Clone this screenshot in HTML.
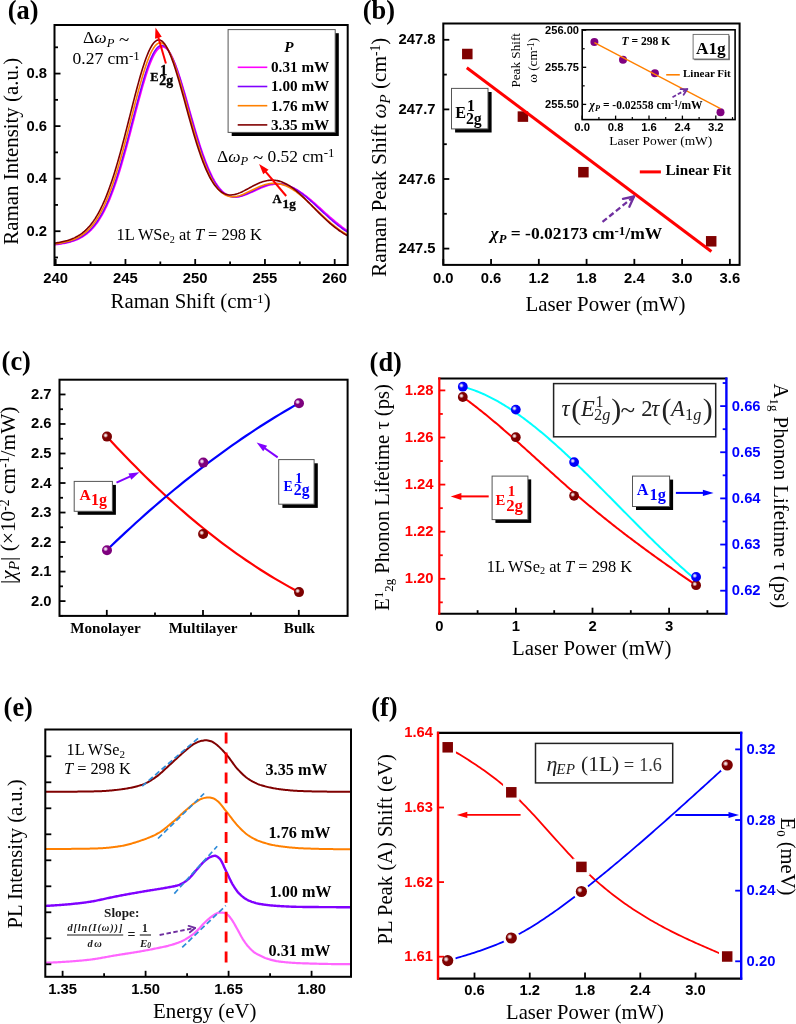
<!DOCTYPE html>
<html lang="en"><head><meta charset="utf-8"><title>Raman and PL power dependence of WSe2</title>
<style>html,body{margin:0;padding:0;background:#fff}svg{display:block;will-change:transform;opacity:0.9999}text{white-space:pre}</style></head><body>
<svg width="796" height="1024" viewBox="0 0 796 1024">
<rect x="0" y="0" width="796" height="1024" fill="#fff"/>
<defs>
<radialGradient id="gRed" cx="0.36" cy="0.38" r="0.70" fx="0.36" fy="0.38"><stop offset="0" stop-color="#f4f4f4"/><stop offset="0.14" stop-color="#e6c4c4"/><stop offset="0.36" stop-color="#800000"/><stop offset="1" stop-color="#7a0000"/></radialGradient>
<radialGradient id="gPur" cx="0.36" cy="0.38" r="0.70" fx="0.36" fy="0.38"><stop offset="0" stop-color="#f4f4f4"/><stop offset="0.14" stop-color="#e6c4e6"/><stop offset="0.36" stop-color="#800080"/><stop offset="1" stop-color="#7a007a"/></radialGradient>
<radialGradient id="gBlu" cx="0.36" cy="0.38" r="0.70" fx="0.36" fy="0.38"><stop offset="0" stop-color="#f4f4f4"/><stop offset="0.14" stop-color="#c4c4f2"/><stop offset="0.36" stop-color="#0000ff"/><stop offset="1" stop-color="#0000ee"/></radialGradient>
</defs>
<clipPath id="clipA"><rect x="54.5" y="25" width="293.2" height="240"/></clipPath>
<g clip-path="url(#clipA)">
<polyline points="53.61,244.85 54.67,244.74 55.73,244.62 56.79,244.49 57.85,244.36 58.91,244.22 59.97,244.07 61.03,243.91 62.09,243.73 63.15,243.55 64.21,243.36 65.27,243.15 66.33,242.93 67.39,242.69 68.45,242.44 69.51,242.17 70.57,241.88 71.63,241.57 72.69,241.24 73.75,240.89 74.81,240.51 75.87,240.1 76.93,239.66 77.99,239.2 79.05,238.7 80.11,238.16 81.17,237.59 82.23,236.98 83.29,236.33 84.35,235.64 85.41,234.9 86.47,234.11 87.53,233.26 88.59,232.37 89.65,231.42 90.71,230.4 91.77,229.33 92.83,228.19 93.89,226.98 94.95,225.71 96.01,224.35 97.07,222.93 98.13,221.42 99.19,219.84 100.25,218.17 101.31,216.41 102.37,214.57 103.43,212.64 104.49,210.62 105.55,208.5 106.61,206.29 107.67,203.98 108.73,201.57 109.79,199.07 110.85,196.46 111.91,193.76 112.97,190.96 114.03,188.07 115.09,185.07 116.15,181.99 117.21,178.8 118.27,175.53 119.33,172.16 120.39,168.71 121.45,165.18 122.51,161.57 123.57,157.88 124.63,154.13 125.69,150.31 126.75,146.43 127.81,142.5 128.87,138.52 129.93,134.51 130.99,130.47 132.05,126.4 133.11,122.32 134.17,118.23 135.23,114.15 136.29,110.09 137.35,106.05 138.41,102.04 139.47,98.09 140.53,94.19 141.59,90.36 142.65,86.62 143.71,82.97 144.77,79.43 145.83,76 146.89,72.71 147.95,69.57 149.01,66.58 150.07,63.76 151.13,61.12 152.19,58.68 153.25,56.44 154.31,54.42 155.37,52.61 156.43,51.05 157.49,49.72 158.55,48.64 159.61,47.81 160.67,47.23 161.73,46.91 162.79,46.86 163.85,47.06 164.91,47.51 165.97,48.22 167.03,49.18 168.09,50.39 169.15,51.82 170.21,53.49 171.27,55.37 172.33,57.46 173.39,59.75 174.45,62.22 175.51,64.87 176.57,67.67 177.63,70.62 178.69,73.71 179.75,76.92 180.81,80.24 181.87,83.65 182.93,87.15 183.99,90.71 185.05,94.33 186.11,98 187.17,101.7 188.23,105.42 189.29,109.15 190.35,112.89 191.41,116.61 192.47,120.31 193.53,123.98 194.59,127.62 195.65,131.2 196.71,134.74 197.77,138.21 198.83,141.61 199.89,144.93 200.95,148.17 202.01,151.33 203.07,154.39 204.13,157.36 205.19,160.23 206.25,162.99 207.31,165.65 208.37,168.19 209.43,170.63 210.49,172.95 211.55,175.16 212.61,177.26 213.67,179.24 214.73,181.1 215.79,182.85 216.85,184.49 217.91,186.01 218.97,187.43 220.03,188.73 221.09,189.93 222.15,191.02 223.21,192.01 224.27,192.89 225.33,193.68 226.39,194.38 227.45,194.99 228.51,195.51 229.57,195.94 230.63,196.29 231.69,196.57 232.75,196.77 233.81,196.9 234.87,196.97 235.93,196.98 236.99,196.93 238.05,196.82 239.11,196.66 240.17,196.46 241.23,196.21 242.29,195.92 243.35,195.6 244.41,195.24 245.47,194.86 246.53,194.45 247.59,194.02 248.65,193.57 249.71,193.11 250.77,192.63 251.83,192.15 252.89,191.66 253.95,191.16 255.01,190.67 256.07,190.18 257.13,189.69 258.19,189.21 259.25,188.75 260.31,188.29 261.37,187.85 262.43,187.42 263.49,187.01 264.55,186.63 265.61,186.26 266.67,185.92 267.73,185.6 268.79,185.31 269.85,185.05 270.91,184.82 271.97,184.62 273.03,184.44 274.09,184.31 275.15,184.2 276.21,184.13 277.27,184.09 278.33,184.09 279.39,184.12 280.45,184.19 281.51,184.29 282.57,184.43 283.63,184.61 284.69,184.82 285.75,185.07 286.81,185.36 287.87,185.68 288.93,186.03 289.99,186.42 291.05,186.84 292.11,187.3 293.17,187.79 294.23,188.31 295.29,188.87 296.35,189.45 297.41,190.06 298.47,190.7 299.53,191.37 300.59,192.07 301.65,192.79 302.71,193.53 303.77,194.3 304.83,195.09 305.89,195.9 306.95,196.73 308.01,197.58 309.07,198.44 310.13,199.32 311.19,200.22 312.25,201.12 313.31,202.04 314.37,202.97 315.43,203.9 316.49,204.85 317.55,205.8 318.61,206.75 319.67,207.71 320.73,208.67 321.79,209.64 322.85,210.6 323.91,211.56 324.97,212.52 326.03,213.48 327.09,214.43 328.15,215.37 329.21,216.31 330.27,217.24 331.33,218.17 332.39,219.08 333.45,219.98 334.51,220.88 335.57,221.76 336.63,222.63 337.69,223.48 338.75,224.33 339.81,225.15 340.87,225.97 341.93,226.77 342.99,227.55 344.05,228.31 345.11,229.07 346.17,229.8 347.23,230.52 348.29,231.22 349.35,231.9" fill="none" stroke="#FF00FF" stroke-width="1.6" stroke-linejoin="round" stroke-linecap="butt"/>
<polyline points="53.61,244.48 54.67,244.37 55.73,244.24 56.79,244.11 57.85,243.97 58.91,243.82 59.97,243.66 61.03,243.5 62.09,243.32 63.15,243.13 64.21,242.92 65.27,242.7 66.33,242.47 67.39,242.22 68.45,241.96 69.51,241.67 70.57,241.37 71.63,241.04 72.69,240.69 73.75,240.32 74.81,239.92 75.87,239.49 76.93,239.03 77.99,238.54 79.05,238.02 80.11,237.45 81.17,236.85 82.23,236.21 83.29,235.53 84.35,234.8 85.41,234.02 86.47,233.19 87.53,232.31 88.59,231.37 89.65,230.37 90.71,229.31 91.77,228.19 92.83,227 93.89,225.74 94.95,224.4 96.01,222.99 97.07,221.51 98.13,219.94 99.19,218.29 100.25,216.55 101.31,214.73 102.37,212.82 103.43,210.81 104.49,208.71 105.55,206.52 106.61,204.23 107.67,201.84 108.73,199.35 109.79,196.77 110.85,194.09 111.91,191.3 112.97,188.42 114.03,185.44 115.09,182.37 116.15,179.19 117.21,175.93 118.27,172.58 119.33,169.13 120.39,165.61 121.45,162 122.51,158.32 123.57,154.56 124.63,150.74 125.69,146.86 126.75,142.92 127.81,138.93 128.87,134.91 129.93,130.85 130.99,126.76 132.05,122.66 133.11,118.55 134.17,114.45 135.23,110.35 136.29,106.28 137.35,102.24 138.41,98.24 139.47,94.3 140.53,90.43 141.59,86.63 142.65,82.93 143.71,79.33 144.77,75.84 145.83,72.49 146.89,69.28 147.95,66.22 149.01,63.33 150.07,60.62 151.13,58.1 152.19,55.78 153.25,53.67 154.31,51.79 155.37,50.13 156.43,48.72 157.49,47.55 158.55,46.64 159.61,45.98 160.67,45.58 161.73,45.44 162.79,45.57 163.85,45.95 164.91,46.59 165.97,47.48 167.03,48.62 168.09,50 169.15,51.61 170.21,53.44 171.27,55.48 172.33,57.73 173.39,60.17 174.45,62.79 175.51,65.57 176.57,68.51 177.63,71.59 178.69,74.79 179.75,78.11 180.81,81.52 181.87,85.03 182.93,88.61 183.99,92.25 185.05,95.94 186.11,99.67 187.17,103.43 188.23,107.2 189.29,110.97 190.35,114.74 191.41,118.49 192.47,122.21 193.53,125.9 194.59,129.54 195.65,133.13 196.71,136.65 197.77,140.12 198.83,143.5 199.89,146.81 200.95,150.03 202.01,153.15 203.07,156.18 204.13,159.12 205.19,161.94 206.25,164.66 207.31,167.27 208.37,169.77 209.43,172.15 210.49,174.42 211.55,176.58 212.61,178.61 213.67,180.53 214.73,182.34 215.79,184.02 216.85,185.59 217.91,187.05 218.97,188.4 220.03,189.64 221.09,190.77 222.15,191.79 223.21,192.71 224.27,193.54 225.33,194.26 226.39,194.89 227.45,195.43 228.51,195.88 229.57,196.25 230.63,196.54 231.69,196.76 232.75,196.9 233.81,196.97 234.87,196.98 235.93,196.93 236.99,196.82 238.05,196.66 239.11,196.45 240.17,196.2 241.23,195.9 242.29,195.56 243.35,195.2 244.41,194.8 245.47,194.37 246.53,193.92 247.59,193.46 248.65,192.97 249.71,192.48 250.77,191.97 251.83,191.46 252.89,190.94 253.95,190.43 255.01,189.91 256.07,189.4 257.13,188.9 258.19,188.41 259.25,187.93 260.31,187.46 261.37,187.02 262.43,186.59 263.49,186.18 264.55,185.8 265.61,185.44 266.67,185.1 267.73,184.8 268.79,184.52 269.85,184.28 270.91,184.07 271.97,183.89 273.03,183.74 274.09,183.63 275.15,183.55 276.21,183.51 277.27,183.51 278.33,183.54 279.39,183.62 280.45,183.73 281.51,183.87 282.57,184.06 283.63,184.28 284.69,184.54 285.75,184.84 286.81,185.18 287.87,185.55 288.93,185.96 289.99,186.41 291.05,186.89 292.11,187.4 293.17,187.95 294.23,188.53 295.29,189.14 296.35,189.78 297.41,190.45 298.47,191.15 299.53,191.88 300.59,192.63 301.65,193.41 302.71,194.21 303.77,195.04 304.83,195.88 305.89,196.74 306.95,197.63 308.01,198.53 309.07,199.44 310.13,200.37 311.19,201.31 312.25,202.26 313.31,203.22 314.37,204.19 315.43,205.16 316.49,206.14 317.55,207.13 318.61,208.12 319.67,209.11 320.73,210.1 321.79,211.08 322.85,212.07 323.91,213.05 324.97,214.03 326.03,215 327.09,215.96 328.15,216.92 329.21,217.87 330.27,218.8 331.33,219.73 332.39,220.65 333.45,221.55 334.51,222.44 335.57,223.31 336.63,224.17 337.69,225.02 338.75,225.85 339.81,226.67 340.87,227.46 341.93,228.25 342.99,229.01 344.05,229.76 345.11,230.48 346.17,231.19 347.23,231.89 348.29,232.56 349.35,233.22" fill="none" stroke="#8000FF" stroke-width="1.6" stroke-linejoin="round" stroke-linecap="butt"/>
<polyline points="53.61,244 54.67,243.87 55.73,243.74 56.79,243.59 57.85,243.44 58.91,243.28 59.97,243.1 61.03,242.92 62.09,242.72 63.15,242.51 64.21,242.29 65.27,242.05 66.33,241.79 67.39,241.51 68.45,241.22 69.51,240.9 70.57,240.57 71.63,240.21 72.69,239.82 73.75,239.4 74.81,238.96 75.87,238.49 76.93,237.98 77.99,237.43 79.05,236.85 80.11,236.23 81.17,235.57 82.23,234.86 83.29,234.11 84.35,233.3 85.41,232.45 86.47,231.54 87.53,230.57 88.59,229.54 89.65,228.44 90.71,227.28 91.77,226.05 92.83,224.75 93.89,223.38 94.95,221.93 96.01,220.4 97.07,218.78 98.13,217.08 99.19,215.3 100.25,213.42 101.31,211.45 102.37,209.39 103.43,207.24 104.49,204.98 105.55,202.63 106.61,200.18 107.67,197.64 108.73,194.99 109.79,192.24 110.85,189.39 111.91,186.44 112.97,183.39 114.03,180.24 115.09,177 116.15,173.67 117.21,170.24 118.27,166.73 119.33,163.13 120.39,159.45 121.45,155.7 122.51,151.87 123.57,147.98 124.63,144.03 125.69,140.03 126.75,135.98 127.81,131.9 128.87,127.78 129.93,123.63 130.99,119.48 132.05,115.32 133.11,111.16 134.17,107.02 135.23,102.91 136.29,98.83 137.35,94.81 138.41,90.84 139.47,86.94 140.53,83.13 141.59,79.41 142.65,75.81 143.71,72.33 144.77,68.98 145.83,65.78 146.89,62.74 147.95,59.87 149.01,57.19 150.07,54.71 151.13,52.43 152.19,50.38 153.25,48.55 154.31,46.96 155.37,45.62 156.43,44.53 157.49,43.69 158.55,43.12 159.61,42.81 160.67,42.76 161.73,42.98 162.79,43.46 163.85,44.2 164.91,45.2 165.97,46.44 167.03,47.93 168.09,49.65 169.15,51.59 170.21,53.74 171.27,56.09 172.33,58.64 173.39,61.36 174.45,64.25 175.51,67.28 176.57,70.46 177.63,73.76 178.69,77.17 179.75,80.68 180.81,84.28 181.87,87.94 182.93,91.67 183.99,95.44 185.05,99.24 186.11,103.07 187.17,106.91 188.23,110.75 189.29,114.58 190.35,118.38 191.41,122.16 192.47,125.9 193.53,129.59 194.59,133.22 195.65,136.79 196.71,140.29 197.77,143.71 198.83,147.04 199.89,150.29 200.95,153.44 202.01,156.49 203.07,159.44 204.13,162.28 205.19,165.01 206.25,167.63 207.31,170.13 208.37,172.51 209.43,174.78 210.49,176.93 211.55,178.96 212.61,180.87 213.67,182.66 214.73,184.33 215.79,185.88 216.85,187.32 217.91,188.65 218.97,189.86 220.03,190.97 221.09,191.96 222.15,192.86 223.21,193.65 224.27,194.34 225.33,194.94 226.39,195.45 227.45,195.86 228.51,196.2 229.57,196.45 230.63,196.63 231.69,196.74 232.75,196.77 233.81,196.75 234.87,196.66 235.93,196.51 236.99,196.32 238.05,196.07 239.11,195.78 240.17,195.45 241.23,195.08 242.29,194.68 243.35,194.26 244.41,193.8 245.47,193.33 246.53,192.84 247.59,192.33 248.65,191.81 249.71,191.29 250.77,190.76 251.83,190.23 252.89,189.71 253.95,189.19 255.01,188.67 256.07,188.17 257.13,187.68 258.19,187.21 259.25,186.75 260.31,186.32 261.37,185.91 262.43,185.52 263.49,185.16 264.55,184.83 265.61,184.53 266.67,184.26 267.73,184.02 268.79,183.82 269.85,183.65 270.91,183.52 271.97,183.42 273.03,183.37 274.09,183.35 275.15,183.37 276.21,183.44 277.27,183.54 278.33,183.68 279.39,183.87 280.45,184.09 281.51,184.35 282.57,184.66 283.63,185 284.69,185.38 285.75,185.81 286.81,186.26 287.87,186.76 288.93,187.29 289.99,187.86 291.05,188.47 292.11,189.1 293.17,189.77 294.23,190.47 295.29,191.2 296.35,191.96 297.41,192.75 298.47,193.56 299.53,194.4 300.59,195.26 301.65,196.14 302.71,197.04 303.77,197.97 304.83,198.9 305.89,199.85 306.95,200.82 308.01,201.8 309.07,202.79 310.13,203.79 311.19,204.79 312.25,205.8 313.31,206.82 314.37,207.84 315.43,208.86 316.49,209.88 317.55,210.9 318.61,211.92 319.67,212.93 320.73,213.94 321.79,214.94 322.85,215.93 323.91,216.92 324.97,217.9 326.03,218.86 327.09,219.81 328.15,220.75 329.21,221.68 330.27,222.59 331.33,223.49 332.39,224.37 333.45,225.23 334.51,226.08 335.57,226.91 336.63,227.72 337.69,228.52 338.75,229.29 339.81,230.05 340.87,230.79 341.93,231.51 342.99,232.2 344.05,232.88 345.11,233.54 346.17,234.18 347.23,234.8 348.29,235.4 349.35,235.98" fill="none" stroke="#FF8000" stroke-width="1.6" stroke-linejoin="round" stroke-linecap="butt"/>
<polyline points="53.61,243.23 54.67,243.09 55.73,242.94 56.79,242.78 57.85,242.61 58.91,242.43 59.97,242.24 61.03,242.03 62.09,241.81 63.15,241.58 64.21,241.33 65.27,241.06 66.33,240.77 67.39,240.47 68.45,240.14 69.51,239.79 70.57,239.41 71.63,239.01 72.69,238.57 73.75,238.11 74.81,237.62 75.87,237.09 76.93,236.52 77.99,235.92 79.05,235.27 80.11,234.58 81.17,233.84 82.23,233.06 83.29,232.22 84.35,231.33 85.41,230.38 86.47,229.37 87.53,228.3 88.59,227.17 89.65,225.96 90.71,224.69 91.77,223.34 92.83,221.91 93.89,220.41 94.95,218.82 96.01,217.15 97.07,215.4 98.13,213.55 99.19,211.61 100.25,209.58 101.31,207.45 102.37,205.23 103.43,202.9 104.49,200.48 105.55,197.96 106.61,195.33 107.67,192.61 108.73,189.78 109.79,186.85 110.85,183.83 111.91,180.7 112.97,177.47 114.03,174.15 115.09,170.74 116.15,167.23 117.21,163.64 118.27,159.97 119.33,156.21 120.39,152.38 121.45,148.49 122.51,144.52 123.57,140.5 124.63,136.43 125.69,132.32 126.75,128.17 127.81,123.99 128.87,119.8 129.93,115.59 130.99,111.39 132.05,107.19 133.11,103.02 134.17,98.87 135.23,94.77 136.29,90.72 137.35,86.74 138.41,82.84 139.47,79.03 140.53,75.32 141.59,71.73 142.65,68.27 143.71,64.95 144.77,61.78 145.83,58.79 146.89,55.97 147.95,53.35 149.01,50.94 150.07,48.74 151.13,46.76 152.19,45.03 153.25,43.53 154.31,42.29 155.37,41.3 156.43,40.58 157.49,40.12 158.55,39.93 159.61,40.01 160.67,40.36 161.73,40.97 162.79,41.84 163.85,42.96 164.91,44.33 165.97,45.95 167.03,47.79 168.09,49.86 169.15,52.13 170.21,54.61 171.27,57.27 172.33,60.1 173.39,63.1 174.45,66.24 175.51,69.51 176.57,72.91 177.63,76.41 178.69,80 179.75,83.68 180.81,87.42 181.87,91.21 182.93,95.04 183.99,98.91 185.05,102.79 186.11,106.67 187.17,110.56 188.23,114.42 189.29,118.26 190.35,122.06 191.41,125.82 192.47,129.53 193.53,133.17 194.59,136.75 195.65,140.25 196.71,143.66 197.77,146.99 198.83,150.22 199.89,153.36 200.95,156.39 202.01,159.31 203.07,162.12 204.13,164.82 205.19,167.4 206.25,169.86 207.31,172.2 208.37,174.43 209.43,176.52 210.49,178.5 211.55,180.35 212.61,182.09 213.67,183.7 214.73,185.19 215.79,186.57 216.85,187.83 217.91,188.98 218.97,190.01 220.03,190.94 221.09,191.76 222.15,192.47 223.21,193.09 224.27,193.62 225.33,194.05 226.39,194.39 227.45,194.65 228.51,194.82 229.57,194.93 230.63,194.95 231.69,194.91 232.75,194.81 233.81,194.64 234.87,194.42 235.93,194.15 236.99,193.83 238.05,193.47 239.11,193.07 240.17,192.63 241.23,192.16 242.29,191.67 243.35,191.15 244.41,190.62 245.47,190.06 246.53,189.5 247.59,188.93 248.65,188.35 249.71,187.77 250.77,187.2 251.83,186.63 252.89,186.06 253.95,185.51 255.01,184.98 256.07,184.45 257.13,183.95 258.19,183.47 259.25,183.02 260.31,182.59 261.37,182.19 262.43,181.82 263.49,181.48 264.55,181.18 265.61,180.91 266.67,180.68 267.73,180.49 268.79,180.34 269.85,180.23 270.91,180.15 271.97,180.13 273.03,180.14 274.09,180.2 275.15,180.3 276.21,180.44 277.27,180.63 278.33,180.86 279.39,181.13 280.45,181.45 281.51,181.81 282.57,182.22 283.63,182.66 284.69,183.15 285.75,183.68 286.81,184.24 287.87,184.85 288.93,185.49 289.99,186.17 291.05,186.88 292.11,187.63 293.17,188.41 294.23,189.22 295.29,190.06 296.35,190.92 297.41,191.82 298.47,192.74 299.53,193.68 300.59,194.64 301.65,195.62 302.71,196.62 303.77,197.63 304.83,198.66 305.89,199.71 306.95,200.76 308.01,201.82 309.07,202.89 310.13,203.97 311.19,205.05 312.25,206.13 313.31,207.21 314.37,208.3 315.43,209.38 316.49,210.45 317.55,211.53 318.61,212.59 319.67,213.65 320.73,214.7 321.79,215.74 322.85,216.76 323.91,217.78 324.97,218.78 326.03,219.77 327.09,220.74 328.15,221.69 329.21,222.63 330.27,223.55 331.33,224.46 332.39,225.34 333.45,226.21 334.51,227.05 335.57,227.88 336.63,228.68 337.69,229.46 338.75,230.23 339.81,230.97 340.87,231.69 341.93,232.39 342.99,233.07 344.05,233.72 345.11,234.36 346.17,234.97 347.23,235.57 348.29,236.14 349.35,236.69" fill="none" stroke="#800000" stroke-width="1.6" stroke-linejoin="round" stroke-linecap="butt"/>
</g>
<rect x="54.5" y="25" width="293.2" height="240" fill="none" stroke="#000" stroke-width="2"/>
<line x1="55.7" y1="265" x2="55.7" y2="259" stroke="#000" stroke-width="1.8" stroke-linecap="butt"/>
<text x="55.7" y="283.2" font-family='"Liberation Sans", "DejaVu Sans", sans-serif' font-size="14.8" font-weight="bold" font-style="normal" fill="#000" text-anchor="middle">240</text>
<line x1="125.45" y1="265" x2="125.45" y2="259" stroke="#000" stroke-width="1.8" stroke-linecap="butt"/>
<text x="125.45" y="283.2" font-family='"Liberation Sans", "DejaVu Sans", sans-serif' font-size="14.8" font-weight="bold" font-style="normal" fill="#000" text-anchor="middle">245</text>
<line x1="195.2" y1="265" x2="195.2" y2="259" stroke="#000" stroke-width="1.8" stroke-linecap="butt"/>
<text x="195.2" y="283.2" font-family='"Liberation Sans", "DejaVu Sans", sans-serif' font-size="14.8" font-weight="bold" font-style="normal" fill="#000" text-anchor="middle">250</text>
<line x1="264.95" y1="265" x2="264.95" y2="259" stroke="#000" stroke-width="1.8" stroke-linecap="butt"/>
<text x="264.95" y="283.2" font-family='"Liberation Sans", "DejaVu Sans", sans-serif' font-size="14.8" font-weight="bold" font-style="normal" fill="#000" text-anchor="middle">255</text>
<line x1="334.7" y1="265" x2="334.7" y2="259" stroke="#000" stroke-width="1.8" stroke-linecap="butt"/>
<text x="334.7" y="283.2" font-family='"Liberation Sans", "DejaVu Sans", sans-serif' font-size="14.8" font-weight="bold" font-style="normal" fill="#000" text-anchor="middle">260</text>
<line x1="90.58" y1="265" x2="90.58" y2="261.5" stroke="#000" stroke-width="1.8" stroke-linecap="butt"/>
<line x1="160.32" y1="265" x2="160.32" y2="261.5" stroke="#000" stroke-width="1.8" stroke-linecap="butt"/>
<line x1="230.07" y1="265" x2="230.07" y2="261.5" stroke="#000" stroke-width="1.8" stroke-linecap="butt"/>
<line x1="299.82" y1="265" x2="299.82" y2="261.5" stroke="#000" stroke-width="1.8" stroke-linecap="butt"/>
<line x1="54.5" y1="231.2" x2="60.5" y2="231.2" stroke="#000" stroke-width="1.8" stroke-linecap="butt"/>
<text x="47" y="235.7" font-family='"Liberation Sans", "DejaVu Sans", sans-serif' font-size="14.8" font-weight="bold" font-style="normal" fill="#000" text-anchor="end">0.2</text>
<line x1="54.5" y1="178.66" x2="60.5" y2="178.66" stroke="#000" stroke-width="1.8" stroke-linecap="butt"/>
<text x="47" y="183.16" font-family='"Liberation Sans", "DejaVu Sans", sans-serif' font-size="14.8" font-weight="bold" font-style="normal" fill="#000" text-anchor="end">0.4</text>
<line x1="54.5" y1="126.12" x2="60.5" y2="126.12" stroke="#000" stroke-width="1.8" stroke-linecap="butt"/>
<text x="47" y="130.62" font-family='"Liberation Sans", "DejaVu Sans", sans-serif' font-size="14.8" font-weight="bold" font-style="normal" fill="#000" text-anchor="end">0.6</text>
<line x1="54.5" y1="73.58" x2="60.5" y2="73.58" stroke="#000" stroke-width="1.8" stroke-linecap="butt"/>
<text x="47" y="78.08" font-family='"Liberation Sans", "DejaVu Sans", sans-serif' font-size="14.8" font-weight="bold" font-style="normal" fill="#000" text-anchor="end">0.8</text>
<line x1="54.5" y1="257.47" x2="58" y2="257.47" stroke="#000" stroke-width="1.8" stroke-linecap="butt"/>
<line x1="54.5" y1="204.93" x2="58" y2="204.93" stroke="#000" stroke-width="1.8" stroke-linecap="butt"/>
<line x1="54.5" y1="152.39" x2="58" y2="152.39" stroke="#000" stroke-width="1.8" stroke-linecap="butt"/>
<line x1="54.5" y1="99.85" x2="58" y2="99.85" stroke="#000" stroke-width="1.8" stroke-linecap="butt"/>
<line x1="54.5" y1="47.31" x2="58" y2="47.31" stroke="#000" stroke-width="1.8" stroke-linecap="butt"/>
<text x="7.8" y="18.6" font-family='"Liberation Serif", "DejaVu Serif", serif' font-size="26.4" font-weight="bold" font-style="normal" fill="#000" text-anchor="start">(a)</text>
<text x="190.6" y="308.2" font-family='"Liberation Serif", "DejaVu Serif", serif' font-size="20.8" font-weight="normal" font-style="normal" fill="#000" text-anchor="middle">Raman Shift (cm<tspan dy="-0.42em" font-size="64%">-1</tspan><tspan dy="0.27em" font-size="100%">&#8203;</tspan>)</text>
<text x="18.3" y="151.3" font-family='"Liberation Serif", "DejaVu Serif", serif' font-size="20.9" font-weight="normal" font-style="normal" fill="#000" text-anchor="middle" transform="rotate(-90 18.3 151.3)">Raman Intensity (a.u.)</text>
<text x="83" y="43.4" font-family='"Liberation Serif", "DejaVu Serif", serif' font-size="17.5" font-weight="normal" font-style="normal" fill="#000" text-anchor="start">&#916;<tspan font-style="italic">&#969;</tspan><tspan font-style="italic" font-size="72%" dy="0.26em">P</tspan><tspan dy="-0.06em" font-size="108%"> ~</tspan><tspan dy="-0.122em">&#8203;</tspan></text>
<text x="72.6" y="64.3" font-family='"Liberation Serif", "DejaVu Serif", serif' font-size="17.5" font-weight="normal" font-style="normal" fill="#000" text-anchor="start">0.27 cm<tspan dy="-0.36em" font-size="74%">-1</tspan><tspan dy="0.27em" font-size="100%">&#8203;</tspan></text>
<text x="217" y="161.6" font-family='"Liberation Serif", "DejaVu Serif", serif' font-size="17.45" font-weight="normal" font-style="normal" fill="#000" text-anchor="start">&#916;<tspan font-style="italic">&#969;</tspan><tspan font-style="italic" font-size="72%" dy="0.26em">P</tspan><tspan dy="-0.06em" font-size="108%"> ~</tspan><tspan dy="-0.122em">&#8203;</tspan> 0.52 cm<tspan dy="-0.36em" font-size="74%">-1</tspan><tspan dy="0.27em" font-size="100%">&#8203;</tspan></text>
<text x="116.5" y="240.3" font-family='"Liberation Serif", "DejaVu Serif", serif' font-size="16.4" font-weight="normal" font-style="normal" fill="#000" text-anchor="start">1L WSe<tspan font-size="62%" dy="0.25em">2</tspan><tspan dy="-0.155em"> at </tspan><tspan font-style="italic">T</tspan> = 298 K</text>
<line x1="165.9" y1="63.5" x2="158.28" y2="37.21" stroke="#FF0000" stroke-width="2" stroke-linecap="butt"/>
<polygon points="155.5,27.6 161.78,36.71 155.06,38.66" fill="#FF0000"/>
<line x1="286.2" y1="196" x2="265.57" y2="171.72" stroke="#FF0000" stroke-width="2" stroke-linecap="butt"/>
<polygon points="259.1,164.1 268.57,169.84 263.23,174.37" fill="#FF0000"/>
<text x="150.3" y="80.7" font-family='"Liberation Serif", "DejaVu Serif", serif' font-size="12.5" font-weight="bold" font-style="normal" fill="#000" text-anchor="start" stroke="#000" stroke-width="0.35">E</text>
<text x="159.3" y="85.3" font-family='"Liberation Serif", "DejaVu Serif", serif' font-size="13.8" font-weight="bold" font-style="normal" fill="#000" text-anchor="start" stroke="#000" stroke-width="0.35">2g</text>
<text x="160.3" y="74.5" font-family='"Liberation Serif", "DejaVu Serif", serif' font-size="13.8" font-weight="bold" font-style="normal" fill="#000" text-anchor="start" stroke="#000" stroke-width="0.35">1</text>
<text x="272.5" y="203.3" font-family='"Liberation Serif", "DejaVu Serif", serif' font-size="12.6" font-weight="bold" font-style="normal" fill="#000" text-anchor="start" stroke="#000" stroke-width="0.35">A</text>
<text x="282.6" y="208.1" font-family='"Liberation Serif", "DejaVu Serif", serif' font-size="13.2" font-weight="bold" font-style="normal" fill="#000" text-anchor="start" stroke="#000" stroke-width="0.35">1g</text>
<rect x="231.7" y="33.2" width="107.1" height="102.8" fill="#000"/>
<rect x="228.1" y="29.6" width="107.1" height="102.8" fill="#fff" stroke="#555" stroke-width="1"/>
<text x="289" y="52.3" font-family='"Liberation Serif", "DejaVu Serif", serif' font-size="15.2" font-weight="bold" font-style="italic" fill="#000" text-anchor="middle">P</text>
<line x1="237.7" y1="67.3" x2="267.3" y2="67.3" stroke="#FF00FF" stroke-width="1.6" stroke-linecap="butt"/>
<text x="271" y="72.2" font-family='"Liberation Serif", "DejaVu Serif", serif' font-size="15.2" font-weight="bold" font-style="normal" fill="#000" text-anchor="start">0.31 mW</text>
<line x1="237.7" y1="86.5" x2="267.3" y2="86.5" stroke="#8000FF" stroke-width="1.6" stroke-linecap="butt"/>
<text x="271" y="91.4" font-family='"Liberation Serif", "DejaVu Serif", serif' font-size="15.2" font-weight="bold" font-style="normal" fill="#000" text-anchor="start">1.00 mW</text>
<line x1="237.7" y1="105.7" x2="267.3" y2="105.7" stroke="#FF8000" stroke-width="1.6" stroke-linecap="butt"/>
<text x="271" y="110.6" font-family='"Liberation Serif", "DejaVu Serif", serif' font-size="15.2" font-weight="bold" font-style="normal" fill="#000" text-anchor="start">1.76 mW</text>
<line x1="237.7" y1="124.9" x2="267.3" y2="124.9" stroke="#800000" stroke-width="1.6" stroke-linecap="butt"/>
<text x="271" y="129.8" font-family='"Liberation Serif", "DejaVu Serif", serif' font-size="15.2" font-weight="bold" font-style="normal" fill="#000" text-anchor="start">3.35 mW</text>
<rect x="443.3" y="23.5" width="296.3" height="241.4" fill="none" stroke="#000" stroke-width="2"/>
<line x1="443.3" y1="264.9" x2="443.3" y2="258.9" stroke="#000" stroke-width="1.8" stroke-linecap="butt"/>
<text x="443.3" y="282.8" font-family='"Liberation Sans", "DejaVu Sans", sans-serif' font-size="14.8" font-weight="bold" font-style="normal" fill="#000" text-anchor="middle">0.0</text>
<line x1="491.06" y1="264.9" x2="491.06" y2="258.9" stroke="#000" stroke-width="1.8" stroke-linecap="butt"/>
<text x="491.06" y="282.8" font-family='"Liberation Sans", "DejaVu Sans", sans-serif' font-size="14.8" font-weight="bold" font-style="normal" fill="#000" text-anchor="middle">0.6</text>
<line x1="538.82" y1="264.9" x2="538.82" y2="258.9" stroke="#000" stroke-width="1.8" stroke-linecap="butt"/>
<text x="538.82" y="282.8" font-family='"Liberation Sans", "DejaVu Sans", sans-serif' font-size="14.8" font-weight="bold" font-style="normal" fill="#000" text-anchor="middle">1.2</text>
<line x1="586.58" y1="264.9" x2="586.58" y2="258.9" stroke="#000" stroke-width="1.8" stroke-linecap="butt"/>
<text x="586.58" y="282.8" font-family='"Liberation Sans", "DejaVu Sans", sans-serif' font-size="14.8" font-weight="bold" font-style="normal" fill="#000" text-anchor="middle">1.8</text>
<line x1="634.34" y1="264.9" x2="634.34" y2="258.9" stroke="#000" stroke-width="1.8" stroke-linecap="butt"/>
<text x="634.34" y="282.8" font-family='"Liberation Sans", "DejaVu Sans", sans-serif' font-size="14.8" font-weight="bold" font-style="normal" fill="#000" text-anchor="middle">2.4</text>
<line x1="682.1" y1="264.9" x2="682.1" y2="258.9" stroke="#000" stroke-width="1.8" stroke-linecap="butt"/>
<text x="682.1" y="282.8" font-family='"Liberation Sans", "DejaVu Sans", sans-serif' font-size="14.8" font-weight="bold" font-style="normal" fill="#000" text-anchor="middle">3.0</text>
<line x1="729.86" y1="264.9" x2="729.86" y2="258.9" stroke="#000" stroke-width="1.8" stroke-linecap="butt"/>
<text x="729.86" y="282.8" font-family='"Liberation Sans", "DejaVu Sans", sans-serif' font-size="14.8" font-weight="bold" font-style="normal" fill="#000" text-anchor="middle">3.6</text>
<line x1="443.3" y1="248.6" x2="449.3" y2="248.6" stroke="#000" stroke-width="1.8" stroke-linecap="butt"/>
<text x="435.5" y="253.1" font-family='"Liberation Sans", "DejaVu Sans", sans-serif' font-size="14.8" font-weight="bold" font-style="normal" fill="#000" text-anchor="end">247.5</text>
<line x1="443.3" y1="179" x2="449.3" y2="179" stroke="#000" stroke-width="1.8" stroke-linecap="butt"/>
<text x="435.5" y="183.5" font-family='"Liberation Sans", "DejaVu Sans", sans-serif' font-size="14.8" font-weight="bold" font-style="normal" fill="#000" text-anchor="end">247.6</text>
<line x1="443.3" y1="109.4" x2="449.3" y2="109.4" stroke="#000" stroke-width="1.8" stroke-linecap="butt"/>
<text x="435.5" y="113.9" font-family='"Liberation Sans", "DejaVu Sans", sans-serif' font-size="14.8" font-weight="bold" font-style="normal" fill="#000" text-anchor="end">247.7</text>
<line x1="443.3" y1="39.8" x2="449.3" y2="39.8" stroke="#000" stroke-width="1.8" stroke-linecap="butt"/>
<text x="435.5" y="44.3" font-family='"Liberation Sans", "DejaVu Sans", sans-serif' font-size="14.8" font-weight="bold" font-style="normal" fill="#000" text-anchor="end">247.8</text>
<line x1="443.3" y1="213.8" x2="446.8" y2="213.8" stroke="#000" stroke-width="1.8" stroke-linecap="butt"/>
<line x1="443.3" y1="144.2" x2="446.8" y2="144.2" stroke="#000" stroke-width="1.8" stroke-linecap="butt"/>
<line x1="443.3" y1="74.6" x2="446.8" y2="74.6" stroke="#000" stroke-width="1.8" stroke-linecap="butt"/>
<text x="362.8" y="18.6" font-family='"Liberation Serif", "DejaVu Serif", serif' font-size="26.4" font-weight="bold" font-style="normal" fill="#000" text-anchor="start">(b)</text>
<text x="605.5" y="311" font-family='"Liberation Serif", "DejaVu Serif", serif' font-size="20.9" font-weight="normal" font-style="normal" fill="#000" text-anchor="middle">Laser Power (mW)</text>
<text x="385.9" y="157.3" font-family='"Liberation Serif", "DejaVu Serif", serif' font-size="21.2" font-weight="normal" font-style="normal" fill="#000" text-anchor="middle" transform="rotate(-90 385.9 157.3)">Raman Peak Shift <tspan font-style="italic">&#969;</tspan><tspan font-style="italic" font-size="72%" dy="0.26em">P</tspan><tspan dy="-0.187em"> (cm</tspan><tspan dy="-0.42em" font-size="64%">-1</tspan><tspan dy="0.27em" font-size="100%">&#8203;</tspan>)</text>
<rect x="462.05" y="48.75" width="10.5" height="10.5" fill="#800000"/>
<rect x="517.65" y="111.35" width="10.5" height="10.5" fill="#800000"/>
<rect x="578.15" y="166.95" width="10.5" height="10.5" fill="#800000"/>
<rect x="705.95" y="236.05" width="10.5" height="10.5" fill="#800000"/>
<line x1="466.8" y1="67.8" x2="711.4" y2="251.5" stroke="#FF0000" stroke-width="3" stroke-linecap="butt"/>
<rect x="455.1" y="92" width="36.5" height="40.5" fill="#000"/>
<rect x="451.5" y="88.4" width="36.5" height="40.5" fill="#fff" stroke="#555" stroke-width="1"/>
<text x="455.3" y="118" font-family='"Liberation Serif", "DejaVu Serif", serif' font-size="16.2" font-weight="bold" font-style="normal" fill="#000" text-anchor="start">E</text>
<text x="465.91" y="124.3" font-family='"Liberation Serif", "DejaVu Serif", serif' font-size="15.8" font-weight="bold" font-style="normal" fill="#000" text-anchor="start">2g</text>
<text x="467.11" y="110.6" font-family='"Liberation Serif", "DejaVu Serif", serif' font-size="15.8" font-weight="bold" font-style="normal" fill="#000" text-anchor="start">1</text>
<line x1="639.8" y1="171.9" x2="660.9" y2="171.9" stroke="#FF0000" stroke-width="3" stroke-linecap="butt"/>
<text x="665.4" y="175.3" font-family='"Liberation Serif", "DejaVu Serif", serif' font-size="15.2" font-weight="bold" font-style="normal" fill="#000" text-anchor="start">Linear Fit</text>
<line x1="602.5" y1="221.9" x2="634" y2="196.5" stroke="#7030A0" stroke-width="2.3" stroke-linecap="butt" stroke-dasharray="5.6 3"/>
<line x1="634" y1="196.5" x2="629.37" y2="206.81" stroke="#7030A0" stroke-width="2.3" stroke-linecap="round"/>
<line x1="634" y1="196.5" x2="622.94" y2="198.84" stroke="#7030A0" stroke-width="2.3" stroke-linecap="round"/>
<text x="490.5" y="239.3" font-family='"Liberation Serif", "DejaVu Serif", serif' font-size="17.5" font-weight="bold" font-style="normal" fill="#000" text-anchor="start"><tspan font-style="italic">&#967;</tspan><tspan font-style="italic" font-size="72%" dy="0.26em">P</tspan><tspan dy="-0.187em">&#8203;</tspan> = -0.02173 cm<tspan dy="-0.36em" font-size="74%">-1</tspan><tspan dy="0.27em" font-size="100%">&#8203;</tspan>/mW</text>
<rect x="582.2" y="29.8" width="152.9" height="89.8" fill="none" stroke="#000" stroke-width="1.6"/>
<line x1="582.2" y1="119.6" x2="582.2" y2="115.6" stroke="#000" stroke-width="1.3" stroke-linecap="butt"/>
<text x="582.2" y="131" font-family='"Liberation Sans", "DejaVu Sans", sans-serif' font-size="11.3" font-weight="bold" font-style="normal" fill="#000" text-anchor="middle">0.0</text>
<line x1="615.6" y1="119.6" x2="615.6" y2="115.6" stroke="#000" stroke-width="1.3" stroke-linecap="butt"/>
<text x="615.6" y="131" font-family='"Liberation Sans", "DejaVu Sans", sans-serif' font-size="11.3" font-weight="bold" font-style="normal" fill="#000" text-anchor="middle">0.8</text>
<line x1="649" y1="119.6" x2="649" y2="115.6" stroke="#000" stroke-width="1.3" stroke-linecap="butt"/>
<text x="649" y="131" font-family='"Liberation Sans", "DejaVu Sans", sans-serif' font-size="11.3" font-weight="bold" font-style="normal" fill="#000" text-anchor="middle">1.6</text>
<line x1="682.4" y1="119.6" x2="682.4" y2="115.6" stroke="#000" stroke-width="1.3" stroke-linecap="butt"/>
<text x="682.4" y="131" font-family='"Liberation Sans", "DejaVu Sans", sans-serif' font-size="11.3" font-weight="bold" font-style="normal" fill="#000" text-anchor="middle">2.4</text>
<line x1="715.8" y1="119.6" x2="715.8" y2="115.6" stroke="#000" stroke-width="1.3" stroke-linecap="butt"/>
<text x="715.8" y="131" font-family='"Liberation Sans", "DejaVu Sans", sans-serif' font-size="11.3" font-weight="bold" font-style="normal" fill="#000" text-anchor="middle">3.2</text>
<line x1="598.9" y1="119.6" x2="598.9" y2="117.1" stroke="#000" stroke-width="1.2" stroke-linecap="butt"/>
<line x1="632.3" y1="119.6" x2="632.3" y2="117.1" stroke="#000" stroke-width="1.2" stroke-linecap="butt"/>
<line x1="665.7" y1="119.6" x2="665.7" y2="117.1" stroke="#000" stroke-width="1.2" stroke-linecap="butt"/>
<line x1="699.1" y1="119.6" x2="699.1" y2="117.1" stroke="#000" stroke-width="1.2" stroke-linecap="butt"/>
<line x1="732.5" y1="119.6" x2="732.5" y2="117.1" stroke="#000" stroke-width="1.2" stroke-linecap="butt"/>
<line x1="582.2" y1="85.85" x2="584.7" y2="85.85" stroke="#000" stroke-width="1.2" stroke-linecap="butt"/>
<line x1="582.2" y1="48.75" x2="584.7" y2="48.75" stroke="#000" stroke-width="1.2" stroke-linecap="butt"/>
<line x1="582.2" y1="104.4" x2="586.2" y2="104.4" stroke="#000" stroke-width="1.3" stroke-linecap="butt"/>
<text x="579" y="108.3" font-family='"Liberation Sans", "DejaVu Sans", sans-serif' font-size="11.1" font-weight="bold" font-style="normal" fill="#000" text-anchor="end">255.50</text>
<line x1="582.2" y1="67.3" x2="586.2" y2="67.3" stroke="#000" stroke-width="1.3" stroke-linecap="butt"/>
<text x="579" y="71.2" font-family='"Liberation Sans", "DejaVu Sans", sans-serif' font-size="11.1" font-weight="bold" font-style="normal" fill="#000" text-anchor="end">255.75</text>
<line x1="582.2" y1="30.2" x2="586.2" y2="30.2" stroke="#000" stroke-width="1.3" stroke-linecap="butt"/>
<text x="579" y="34.1" font-family='"Liberation Sans", "DejaVu Sans", sans-serif' font-size="11.1" font-weight="bold" font-style="normal" fill="#000" text-anchor="end">256.00</text>
<circle cx="594.4" cy="41.9" r="4" fill="#800080"/>
<circle cx="623" cy="59.7" r="4" fill="#800080"/>
<circle cx="654.9" cy="73.3" r="4" fill="#800080"/>
<circle cx="720.5" cy="112.3" r="4" fill="#800080"/>
<line x1="594.4" y1="42.6" x2="720.5" y2="108.6" stroke="#FF8000" stroke-width="1.4" stroke-linecap="butt"/>
<text x="621.5" y="45.3" font-family='"Liberation Serif", "DejaVu Serif", serif' font-size="11.6" font-weight="bold" font-style="normal" fill="#000" text-anchor="start"><tspan font-style="italic">T</tspan> = 298 K</text>
<rect x="694.2" y="35.6" width="35.7" height="24.6" fill="#777"/>
<rect x="693.1" y="34.4" width="35.7" height="24.6" fill="#fff" stroke="#666" stroke-width="0.9"/>
<text x="710.8" y="53.9" font-family='"Liberation Serif", "DejaVu Serif", serif' font-size="17.3" font-weight="bold" font-style="normal" fill="#000" text-anchor="middle">A1g</text>
<line x1="666.2" y1="74.8" x2="679.8" y2="74.8" stroke="#FF8000" stroke-width="1.6" stroke-linecap="butt"/>
<text x="683" y="77.4" font-family='"Liberation Serif", "DejaVu Serif", serif' font-size="11" font-weight="bold" font-style="normal" fill="#000" text-anchor="start">Linear Fit</text>
<line x1="672.5" y1="97.2" x2="687.3" y2="89.1" stroke="#7030A0" stroke-width="1.8" stroke-linecap="butt" stroke-dasharray="4 2"/>
<line x1="687.3" y1="89.1" x2="683.63" y2="94.82" stroke="#7030A0" stroke-width="1.8" stroke-linecap="round"/>
<line x1="687.3" y1="89.1" x2="680.5" y2="89.11" stroke="#7030A0" stroke-width="1.8" stroke-linecap="round"/>
<text x="589.6" y="109.3" font-family='"Liberation Serif", "DejaVu Serif", serif' font-size="11.5" font-weight="bold" font-style="normal" fill="#000" text-anchor="start"><tspan font-style="italic">&#967;</tspan><tspan font-style="italic" font-size="72%" dy="0.26em">P</tspan><tspan dy="-0.187em">&#8203;</tspan> = -0.02558 cm<tspan dy="-0.36em" font-size="74%">-1</tspan><tspan dy="0.27em" font-size="100%">&#8203;</tspan>/mW</text>
<text x="660.8" y="144.9" font-family='"Liberation Serif", "DejaVu Serif", serif' font-size="13.45" font-weight="normal" font-style="normal" fill="#000" text-anchor="middle">Laser Power (mW)</text>
<text x="520.2" y="60.3" font-family='"Liberation Serif", "DejaVu Serif", serif' font-size="13.2" font-weight="normal" font-style="normal" fill="#000" text-anchor="middle" transform="rotate(-90 520.2 60.3)">Peak Shift</text>
<text x="537.2" y="60.3" font-family='"Liberation Serif", "DejaVu Serif", serif' font-size="13.2" font-weight="normal" font-style="normal" fill="#000" text-anchor="middle" transform="rotate(-90 537.2 60.3)">&#969; (cm<tspan dy="-0.36em" font-size="74%">-1</tspan><tspan dy="0.27em" font-size="100%">&#8203;</tspan>)</text>
<polyline points="106.8,436.5 111.62,441.73 116.44,446.89 121.26,451.99 126.07,457.01 130.89,461.96 135.7,466.85 140.52,471.67 145.33,476.42 150.14,481.1 154.95,485.71 159.76,490.25 164.57,494.72 169.38,499.13 174.18,503.46 178.99,507.73 183.79,511.92 188.6,516.05 193.4,520.11 198.2,524.1 203,528.02 207.8,531.88 212.6,535.66 217.4,539.38 222.19,543.02 226.99,546.6 231.78,550.11 236.58,553.55 241.37,556.92 246.16,560.22 250.95,563.46 255.74,566.62 260.53,569.72 265.32,572.74 270.1,575.7 274.89,578.59 279.67,581.41 284.46,584.16 289.24,586.84 294.02,589.46 298.8,592" fill="none" stroke="#FF0000" stroke-width="2.2" stroke-linejoin="round" stroke-linecap="butt"/>
<polyline points="106.8,550.1 111.62,545.47 116.44,540.89 121.26,536.36 126.07,531.87 130.89,527.44 135.7,523.05 140.52,518.72 145.33,514.43 150.14,510.19 154.95,506.01 159.76,501.87 164.57,497.78 169.38,493.74 174.18,489.74 178.99,485.8 183.79,481.91 188.6,478.06 193.4,474.27 198.2,470.52 203,466.82 207.8,463.18 212.6,459.58 217.4,456.03 222.19,452.53 226.99,449.08 231.78,445.67 236.58,442.32 241.37,439.02 246.16,435.76 250.95,432.56 255.74,429.4 260.53,426.29 265.32,423.23 270.1,420.22 274.89,417.26 279.67,414.35 284.46,411.49 289.24,408.68 294.02,405.91 298.8,403.2" fill="none" stroke="#0000FF" stroke-width="2.2" stroke-linejoin="round" stroke-linecap="butt"/>
<rect x="59.5" y="379.7" width="288.1" height="236.2" fill="none" stroke="#000" stroke-width="2"/>
<line x1="106.8" y1="615.9" x2="106.8" y2="609.9" stroke="#000" stroke-width="1.8" stroke-linecap="butt"/>
<text x="105.5" y="632.6" font-family='"Liberation Serif", "DejaVu Serif", serif' font-size="15.1" font-weight="bold" font-style="normal" fill="#000" text-anchor="middle">Monolayer</text>
<line x1="203" y1="615.9" x2="203" y2="609.9" stroke="#000" stroke-width="1.8" stroke-linecap="butt"/>
<text x="203" y="632.6" font-family='"Liberation Serif", "DejaVu Serif", serif' font-size="15.1" font-weight="bold" font-style="normal" fill="#000" text-anchor="middle">Multilayer</text>
<line x1="298.8" y1="615.9" x2="298.8" y2="609.9" stroke="#000" stroke-width="1.8" stroke-linecap="butt"/>
<text x="299.4" y="632.6" font-family='"Liberation Serif", "DejaVu Serif", serif' font-size="15.1" font-weight="bold" font-style="normal" fill="#000" text-anchor="middle">Bulk</text>
<line x1="155" y1="615.9" x2="155" y2="612.4" stroke="#000" stroke-width="1.8" stroke-linecap="butt"/>
<line x1="251" y1="615.9" x2="251" y2="612.4" stroke="#000" stroke-width="1.8" stroke-linecap="butt"/>
<line x1="59.5" y1="601.1" x2="65.5" y2="601.1" stroke="#000" stroke-width="1.8" stroke-linecap="butt"/>
<text x="51.5" y="605.6" font-family='"Liberation Sans", "DejaVu Sans", sans-serif' font-size="14.8" font-weight="bold" font-style="normal" fill="#000" text-anchor="end">2.0</text>
<line x1="59.5" y1="571.58" x2="65.5" y2="571.58" stroke="#000" stroke-width="1.8" stroke-linecap="butt"/>
<text x="51.5" y="576.08" font-family='"Liberation Sans", "DejaVu Sans", sans-serif' font-size="14.8" font-weight="bold" font-style="normal" fill="#000" text-anchor="end">2.1</text>
<line x1="59.5" y1="542.06" x2="65.5" y2="542.06" stroke="#000" stroke-width="1.8" stroke-linecap="butt"/>
<text x="51.5" y="546.56" font-family='"Liberation Sans", "DejaVu Sans", sans-serif' font-size="14.8" font-weight="bold" font-style="normal" fill="#000" text-anchor="end">2.2</text>
<line x1="59.5" y1="512.54" x2="65.5" y2="512.54" stroke="#000" stroke-width="1.8" stroke-linecap="butt"/>
<text x="51.5" y="517.04" font-family='"Liberation Sans", "DejaVu Sans", sans-serif' font-size="14.8" font-weight="bold" font-style="normal" fill="#000" text-anchor="end">2.3</text>
<line x1="59.5" y1="483.02" x2="65.5" y2="483.02" stroke="#000" stroke-width="1.8" stroke-linecap="butt"/>
<text x="51.5" y="487.52" font-family='"Liberation Sans", "DejaVu Sans", sans-serif' font-size="14.8" font-weight="bold" font-style="normal" fill="#000" text-anchor="end">2.4</text>
<line x1="59.5" y1="453.5" x2="65.5" y2="453.5" stroke="#000" stroke-width="1.8" stroke-linecap="butt"/>
<text x="51.5" y="458" font-family='"Liberation Sans", "DejaVu Sans", sans-serif' font-size="14.8" font-weight="bold" font-style="normal" fill="#000" text-anchor="end">2.5</text>
<line x1="59.5" y1="423.98" x2="65.5" y2="423.98" stroke="#000" stroke-width="1.8" stroke-linecap="butt"/>
<text x="51.5" y="428.48" font-family='"Liberation Sans", "DejaVu Sans", sans-serif' font-size="14.8" font-weight="bold" font-style="normal" fill="#000" text-anchor="end">2.6</text>
<line x1="59.5" y1="394.46" x2="65.5" y2="394.46" stroke="#000" stroke-width="1.8" stroke-linecap="butt"/>
<text x="51.5" y="398.96" font-family='"Liberation Sans", "DejaVu Sans", sans-serif' font-size="14.8" font-weight="bold" font-style="normal" fill="#000" text-anchor="end">2.7</text>
<line x1="59.5" y1="615.86" x2="63" y2="615.86" stroke="#000" stroke-width="1.8" stroke-linecap="butt"/>
<line x1="59.5" y1="586.34" x2="63" y2="586.34" stroke="#000" stroke-width="1.8" stroke-linecap="butt"/>
<line x1="59.5" y1="556.82" x2="63" y2="556.82" stroke="#000" stroke-width="1.8" stroke-linecap="butt"/>
<line x1="59.5" y1="527.3" x2="63" y2="527.3" stroke="#000" stroke-width="1.8" stroke-linecap="butt"/>
<line x1="59.5" y1="497.78" x2="63" y2="497.78" stroke="#000" stroke-width="1.8" stroke-linecap="butt"/>
<line x1="59.5" y1="468.26" x2="63" y2="468.26" stroke="#000" stroke-width="1.8" stroke-linecap="butt"/>
<line x1="59.5" y1="438.74" x2="63" y2="438.74" stroke="#000" stroke-width="1.8" stroke-linecap="butt"/>
<line x1="59.5" y1="409.22" x2="63" y2="409.22" stroke="#000" stroke-width="1.8" stroke-linecap="butt"/>
<circle cx="107" cy="436.6" r="5" fill="url(#gRed)"/>
<circle cx="203.1" cy="534" r="5" fill="url(#gRed)"/>
<circle cx="299" cy="592.1" r="5" fill="url(#gRed)"/>
<circle cx="107" cy="550.2" r="5" fill="url(#gPur)"/>
<circle cx="203.3" cy="462.6" r="5" fill="url(#gPur)"/>
<circle cx="299" cy="403.2" r="5" fill="url(#gPur)"/>
<text x="1.6" y="369.6" font-family='"Liberation Serif", "DejaVu Serif", serif' font-size="26.4" font-weight="bold" font-style="normal" fill="#000" text-anchor="start">(c)</text>
<text x="15" y="495.3" font-family='"Liberation Serif", "DejaVu Serif", serif' font-size="21.4" font-weight="normal" font-style="normal" fill="#000" text-anchor="middle" transform="rotate(-90 15 495.3)">|<tspan font-style="italic">&#967;</tspan><tspan font-style="italic" font-size="72%" dy="0.26em">P</tspan><tspan dy="-0.187em">| (&#215;10</tspan><tspan dy="-0.42em" font-size="64%">-2</tspan><tspan dy="0.27em" font-size="100%">&#8203;</tspan> cm<tspan dy="-0.42em" font-size="64%">-1</tspan><tspan dy="0.27em" font-size="100%">&#8203;</tspan>/mW)</text>
<rect x="77.7" y="484.9" width="38.2" height="29.9" fill="#000"/>
<rect x="74.2" y="481.4" width="38.2" height="29.9" fill="#fff" stroke="#555" stroke-width="1"/>
<text x="79.5" y="499.9" font-family='"Liberation Serif", "DejaVu Serif", serif' font-size="15.6" font-weight="bold" font-style="normal" fill="#FF0000" text-anchor="start">A</text>
<text x="90.9" y="504.5" font-family='"Liberation Serif", "DejaVu Serif", serif' font-size="16" font-weight="bold" font-style="normal" fill="#FF0000" text-anchor="start">1g</text>
<rect x="282.4" y="463.3" width="35.4" height="44.6" fill="#000"/>
<rect x="278.7" y="459.6" width="35.4" height="44.6" fill="#fff" stroke="#555" stroke-width="1"/>
<text x="283.6" y="490.6" font-family='"Liberation Serif", "DejaVu Serif", serif' font-size="13.8" font-weight="bold" font-style="normal" fill="#0000FF" text-anchor="start">E</text>
<text x="293.8" y="495.4" font-family='"Liberation Serif", "DejaVu Serif", serif' font-size="15.7" font-weight="bold" font-style="normal" fill="#0000FF" text-anchor="start">2g</text>
<text x="295.3" y="482.8" font-family='"Liberation Serif", "DejaVu Serif", serif' font-size="14" font-weight="bold" font-style="normal" fill="#0000FF" text-anchor="start">1</text>
<line x1="116.5" y1="482.7" x2="130.31" y2="476.37" stroke="#8000FF" stroke-width="2" stroke-linecap="butt"/>
<polygon points="139.4,472.2 131.27,479.67 128.44,473.49" fill="#8000FF"/>
<line x1="277.7" y1="457.4" x2="264.75" y2="448.19" stroke="#8000FF" stroke-width="2" stroke-linecap="butt"/>
<polygon points="256.6,442.4 267.13,445.71 263.19,451.25" fill="#8000FF"/>
<polyline points="462.8,397 464.27,398.06 465.73,399.13 467.2,400.21 468.67,401.3 470.14,402.4 471.6,403.51 473.07,404.63 474.54,405.75 476.01,406.89 477.47,408.03 478.94,409.19 480.41,410.35 481.87,411.52 483.34,412.7 484.81,413.88 486.28,415.07 487.74,416.27 489.21,417.48 490.68,418.69 492.15,419.91 493.61,421.14 495.08,422.37 496.55,423.61 498.02,424.86 499.48,426.11 500.95,427.37 502.42,428.63 503.88,429.89 505.35,431.16 506.82,432.44 508.29,433.72 509.75,435.01 511.22,436.3 512.69,437.59 514.16,438.89 515.62,440.19 517.09,441.49 518.56,442.8 520.02,444.11 521.49,445.42 522.96,446.74 524.43,448.05 525.89,449.37 527.36,450.69 528.83,452.02 530.3,453.34 531.76,454.67 533.23,456 534.7,457.33 536.16,458.66 537.63,459.99 539.1,461.32 540.57,462.65 542.03,463.98 543.5,465.31 544.97,466.64 546.44,467.97 547.9,469.3 549.37,470.62 550.84,471.95 552.31,473.28 553.77,474.6 555.24,475.92 556.71,477.24 558.17,478.56 559.64,479.88 561.11,481.19 562.58,482.5 564.04,483.81 565.51,485.11 566.98,486.41 568.45,487.71 569.91,489 571.38,490.29 572.85,491.58 574.31,492.86 575.78,494.14 577.25,495.41 578.72,496.68 580.18,497.94 581.65,499.2 583.12,500.45 584.59,501.69 586.05,502.94 587.52,504.17 588.99,505.4 590.45,506.63 591.92,507.85 593.39,509.07 594.86,510.28 596.32,511.49 597.79,512.69 599.26,513.89 600.73,515.08 602.19,516.27 603.66,517.45 605.13,518.63 606.59,519.81 608.06,520.98 609.53,522.15 611,523.31 612.46,524.47 613.93,525.62 615.4,526.77 616.87,527.92 618.33,529.06 619.8,530.2 621.27,531.33 622.74,532.46 624.2,533.59 625.67,534.71 627.14,535.83 628.6,536.95 630.07,538.06 631.54,539.17 633.01,540.27 634.47,541.37 635.94,542.47 637.41,543.57 638.88,544.66 640.34,545.75 641.81,546.83 643.28,547.91 644.74,548.99 646.21,550.07 647.68,551.14 649.15,552.21 650.61,553.28 652.08,554.34 653.55,555.4 655.02,556.46 656.48,557.52 657.95,558.57 659.42,559.62 660.88,560.67 662.35,561.71 663.82,562.76 665.29,563.8 666.75,564.84 668.22,565.87 669.69,566.91 671.16,567.94 672.62,568.97 674.09,570 675.56,571.02 677.03,572.05 678.49,573.07 679.96,574.09 681.43,575.11 682.89,576.12 684.36,577.14 685.83,578.15 687.3,579.16 688.76,580.17 690.23,581.18 691.7,582.19 693.17,583.19 694.63,584.2 696.1,585.2" fill="none" stroke="#FF0000" stroke-width="2" stroke-linejoin="round" stroke-linecap="butt"/>
<polyline points="462.8,386.7 464.27,387.09 465.73,387.5 467.2,387.93 468.67,388.39 470.14,388.86 471.6,389.35 473.07,389.87 474.54,390.4 476.01,390.95 477.47,391.53 478.94,392.12 480.41,392.73 481.87,393.36 483.34,394.01 484.81,394.68 486.28,395.36 487.74,396.07 489.21,396.79 490.68,397.53 492.15,398.28 493.61,399.05 495.08,399.84 496.55,400.65 498.02,401.48 499.48,402.32 500.95,403.17 502.42,404.04 503.88,404.93 505.35,405.83 506.82,406.75 508.29,407.69 509.75,408.63 511.22,409.6 512.69,410.58 514.16,411.57 515.62,412.57 517.09,413.59 518.56,414.63 520.02,415.67 521.49,416.73 522.96,417.81 524.43,418.89 525.89,419.99 527.36,421.1 528.83,422.23 530.3,423.36 531.76,424.51 533.23,425.67 534.7,426.84 536.16,428.02 537.63,429.21 539.1,430.41 540.57,431.63 542.03,432.85 543.5,434.09 544.97,435.33 546.44,436.58 547.9,437.85 549.37,439.12 550.84,440.4 552.31,441.69 553.77,442.99 555.24,444.3 556.71,445.62 558.17,446.94 559.64,448.27 561.11,449.61 562.58,450.96 564.04,452.31 565.51,453.67 566.98,455.04 568.45,456.42 569.91,457.8 571.38,459.19 572.85,460.58 574.31,461.98 575.78,463.39 577.25,464.8 578.72,466.21 580.18,467.63 581.65,469.06 583.12,470.49 584.59,471.92 586.05,473.36 587.52,474.8 588.99,476.25 590.45,477.7 591.92,479.16 593.39,480.61 594.86,482.08 596.32,483.54 597.79,485.01 599.26,486.48 600.73,487.95 602.19,489.42 603.66,490.9 605.13,492.38 606.59,493.86 608.06,495.34 609.53,496.82 611,498.3 612.46,499.79 613.93,501.27 615.4,502.76 616.87,504.25 618.33,505.73 619.8,507.22 621.27,508.71 622.74,510.19 624.2,511.68 625.67,513.16 627.14,514.65 628.6,516.13 630.07,517.61 631.54,519.09 633.01,520.57 634.47,522.05 635.94,523.52 637.41,525 638.88,526.47 640.34,527.94 641.81,529.4 643.28,530.86 644.74,532.32 646.21,533.78 647.68,535.23 649.15,536.68 650.61,538.12 652.08,539.56 653.55,541 655.02,542.43 656.48,543.86 657.95,545.28 659.42,546.7 660.88,548.12 662.35,549.52 663.82,550.92 665.29,552.32 666.75,553.71 668.22,555.1 669.69,556.47 671.16,557.85 672.62,559.21 674.09,560.57 675.56,561.92 677.03,563.26 678.49,564.6 679.96,565.93 681.43,567.25 682.89,568.56 684.36,569.87 685.83,571.17 687.3,572.46 688.76,573.74 690.23,575.01 691.7,576.27 693.17,577.52 694.63,578.77 696.1,580" fill="none" stroke="#00FFFF" stroke-width="2" stroke-linejoin="round" stroke-linecap="butt"/>
<line x1="438.3" y1="378.4" x2="727.2" y2="378.4" stroke="#000" stroke-width="2" stroke-linecap="butt"/>
<line x1="438.3" y1="613.7" x2="727.2" y2="613.7" stroke="#000" stroke-width="2" stroke-linecap="butt"/>
<line x1="439.3" y1="377.4" x2="439.3" y2="614.7" stroke="#FF0000" stroke-width="2.2" stroke-linecap="butt"/>
<line x1="726.4" y1="377.4" x2="726.4" y2="614.7" stroke="#0000FF" stroke-width="2.4" stroke-linecap="butt"/>
<text x="439.3" y="630.9" font-family='"Liberation Sans", "DejaVu Sans", sans-serif' font-size="14.8" font-weight="bold" font-style="normal" fill="#000" text-anchor="middle">0</text>
<line x1="515.9" y1="613.7" x2="515.9" y2="607.7" stroke="#000" stroke-width="1.8" stroke-linecap="butt"/>
<text x="515.9" y="630.9" font-family='"Liberation Sans", "DejaVu Sans", sans-serif' font-size="14.8" font-weight="bold" font-style="normal" fill="#000" text-anchor="middle">1</text>
<line x1="592.5" y1="613.7" x2="592.5" y2="607.7" stroke="#000" stroke-width="1.8" stroke-linecap="butt"/>
<text x="592.5" y="630.9" font-family='"Liberation Sans", "DejaVu Sans", sans-serif' font-size="14.8" font-weight="bold" font-style="normal" fill="#000" text-anchor="middle">2</text>
<line x1="669.1" y1="613.7" x2="669.1" y2="607.7" stroke="#000" stroke-width="1.8" stroke-linecap="butt"/>
<text x="669.1" y="630.9" font-family='"Liberation Sans", "DejaVu Sans", sans-serif' font-size="14.8" font-weight="bold" font-style="normal" fill="#000" text-anchor="middle">3</text>
<line x1="477.6" y1="613.7" x2="477.6" y2="610.2" stroke="#000" stroke-width="1.8" stroke-linecap="butt"/>
<line x1="554.2" y1="613.7" x2="554.2" y2="610.2" stroke="#000" stroke-width="1.8" stroke-linecap="butt"/>
<line x1="630.8" y1="613.7" x2="630.8" y2="610.2" stroke="#000" stroke-width="1.8" stroke-linecap="butt"/>
<line x1="707.4" y1="613.7" x2="707.4" y2="610.2" stroke="#000" stroke-width="1.8" stroke-linecap="butt"/>
<line x1="439.3" y1="578.8" x2="445.3" y2="578.8" stroke="#FF0000" stroke-width="1.8" stroke-linecap="butt"/>
<text x="433.6" y="583" font-family='"Liberation Sans", "DejaVu Sans", sans-serif' font-size="14.8" font-weight="bold" font-style="normal" fill="#FF0000" text-anchor="end">1.20</text>
<line x1="439.3" y1="531.7" x2="445.3" y2="531.7" stroke="#FF0000" stroke-width="1.8" stroke-linecap="butt"/>
<text x="433.6" y="535.9" font-family='"Liberation Sans", "DejaVu Sans", sans-serif' font-size="14.8" font-weight="bold" font-style="normal" fill="#FF0000" text-anchor="end">1.22</text>
<line x1="439.3" y1="484.6" x2="445.3" y2="484.6" stroke="#FF0000" stroke-width="1.8" stroke-linecap="butt"/>
<text x="433.6" y="488.8" font-family='"Liberation Sans", "DejaVu Sans", sans-serif' font-size="14.8" font-weight="bold" font-style="normal" fill="#FF0000" text-anchor="end">1.24</text>
<line x1="439.3" y1="437.5" x2="445.3" y2="437.5" stroke="#FF0000" stroke-width="1.8" stroke-linecap="butt"/>
<text x="433.6" y="441.7" font-family='"Liberation Sans", "DejaVu Sans", sans-serif' font-size="14.8" font-weight="bold" font-style="normal" fill="#FF0000" text-anchor="end">1.26</text>
<line x1="439.3" y1="390.4" x2="445.3" y2="390.4" stroke="#FF0000" stroke-width="1.8" stroke-linecap="butt"/>
<text x="433.6" y="394.6" font-family='"Liberation Sans", "DejaVu Sans", sans-serif' font-size="14.8" font-weight="bold" font-style="normal" fill="#FF0000" text-anchor="end">1.28</text>
<line x1="439.3" y1="602.35" x2="442.8" y2="602.35" stroke="#FF0000" stroke-width="1.8" stroke-linecap="butt"/>
<line x1="439.3" y1="555.25" x2="442.8" y2="555.25" stroke="#FF0000" stroke-width="1.8" stroke-linecap="butt"/>
<line x1="439.3" y1="508.15" x2="442.8" y2="508.15" stroke="#FF0000" stroke-width="1.8" stroke-linecap="butt"/>
<line x1="439.3" y1="461.05" x2="442.8" y2="461.05" stroke="#FF0000" stroke-width="1.8" stroke-linecap="butt"/>
<line x1="439.3" y1="413.95" x2="442.8" y2="413.95" stroke="#FF0000" stroke-width="1.8" stroke-linecap="butt"/>
<line x1="726.2" y1="590.7" x2="720.2" y2="590.7" stroke="#0000FF" stroke-width="1.8" stroke-linecap="butt"/>
<text x="731.8" y="595.2" font-family='"Liberation Sans", "DejaVu Sans", sans-serif' font-size="14.8" font-weight="bold" font-style="normal" fill="#0000FF" text-anchor="start">0.62</text>
<line x1="726.2" y1="544.55" x2="720.2" y2="544.55" stroke="#0000FF" stroke-width="1.8" stroke-linecap="butt"/>
<text x="731.8" y="549.05" font-family='"Liberation Sans", "DejaVu Sans", sans-serif' font-size="14.8" font-weight="bold" font-style="normal" fill="#0000FF" text-anchor="start">0.63</text>
<line x1="726.2" y1="498.4" x2="720.2" y2="498.4" stroke="#0000FF" stroke-width="1.8" stroke-linecap="butt"/>
<text x="731.8" y="502.9" font-family='"Liberation Sans", "DejaVu Sans", sans-serif' font-size="14.8" font-weight="bold" font-style="normal" fill="#0000FF" text-anchor="start">0.64</text>
<line x1="726.2" y1="452.25" x2="720.2" y2="452.25" stroke="#0000FF" stroke-width="1.8" stroke-linecap="butt"/>
<text x="731.8" y="456.75" font-family='"Liberation Sans", "DejaVu Sans", sans-serif' font-size="14.8" font-weight="bold" font-style="normal" fill="#0000FF" text-anchor="start">0.65</text>
<line x1="726.2" y1="406.1" x2="720.2" y2="406.1" stroke="#0000FF" stroke-width="1.8" stroke-linecap="butt"/>
<text x="731.8" y="410.6" font-family='"Liberation Sans", "DejaVu Sans", sans-serif' font-size="14.8" font-weight="bold" font-style="normal" fill="#0000FF" text-anchor="start">0.66</text>
<line x1="726.2" y1="567.62" x2="722.7" y2="567.62" stroke="#0000FF" stroke-width="1.8" stroke-linecap="butt"/>
<line x1="726.2" y1="521.48" x2="722.7" y2="521.48" stroke="#0000FF" stroke-width="1.8" stroke-linecap="butt"/>
<line x1="726.2" y1="475.32" x2="722.7" y2="475.32" stroke="#0000FF" stroke-width="1.8" stroke-linecap="butt"/>
<line x1="726.2" y1="429.17" x2="722.7" y2="429.17" stroke="#0000FF" stroke-width="1.8" stroke-linecap="butt"/>
<line x1="726.2" y1="383.02" x2="722.7" y2="383.02" stroke="#0000FF" stroke-width="1.8" stroke-linecap="butt"/>
<circle cx="462.8" cy="397" r="4.9" fill="url(#gRed)"/>
<circle cx="515.8" cy="437.2" r="4.9" fill="url(#gRed)"/>
<circle cx="574.1" cy="495.8" r="4.9" fill="url(#gRed)"/>
<circle cx="696.1" cy="585.2" r="4.9" fill="url(#gRed)"/>
<circle cx="462.8" cy="386.7" r="4.9" fill="url(#gBlu)"/>
<circle cx="515.8" cy="409.6" r="4.9" fill="url(#gBlu)"/>
<circle cx="574.1" cy="462.1" r="4.9" fill="url(#gBlu)"/>
<circle cx="696.1" cy="576.9" r="4.9" fill="url(#gBlu)"/>
<text x="369.6" y="370.6" font-family='"Liberation Serif", "DejaVu Serif", serif' font-size="26.4" font-weight="bold" font-style="normal" fill="#000" text-anchor="start">(d)</text>
<text x="591.7" y="654.8" font-family='"Liberation Serif", "DejaVu Serif", serif' font-size="20.8" font-weight="normal" font-style="normal" fill="#000" text-anchor="middle">Laser Power (mW)</text>
<text x="389.1" y="497.4" font-family='"Liberation Serif", "DejaVu Serif", serif' font-size="20.6" font-weight="normal" font-style="normal" fill="#000" text-anchor="middle" transform="rotate(-90 389.1 497.4)">E<tspan font-size="62%" dy="-0.45em">1</tspan><tspan font-size="62%" dy="0.75em">2g</tspan><tspan dy="-0.186em"> Phonon Lifetime &#964; (ps)</tspan></text>
<text x="773.8" y="495.8" font-family='"Liberation Serif", "DejaVu Serif", serif' font-size="20.8" font-weight="normal" font-style="normal" fill="#000" text-anchor="middle" transform="rotate(90 773.8 495.8)">A<tspan font-size="62%" dy="0.30em">1g</tspan><tspan dy="-0.186em"> Phonon Lifetime &#964; (ps)</tspan></text>
<rect x="553.6" y="383.6" width="162.1" height="53.2" fill="#fff" stroke="#222" stroke-width="1.5"/>
<text x="561.5" y="415.8" font-family='"Liberation Serif", "DejaVu Serif", serif' font-size="22.5" font-weight="normal" font-style="italic" fill="#222" text-anchor="start">&#964;</text>
<text x="571.2" y="418.8" font-family='"Liberation Serif", "DejaVu Serif", serif' font-size="30" font-weight="normal" font-style="normal" fill="#222" text-anchor="start">(</text>
<text x="581" y="415.8" font-family='"Liberation Serif", "DejaVu Serif", serif' font-size="22.5" font-weight="normal" font-style="italic" fill="#222" text-anchor="start">E</text>
<text x="595.4" y="406.5" font-family='"Liberation Serif", "DejaVu Serif", serif' font-size="16" font-weight="normal" font-style="normal" fill="#222" text-anchor="start">1</text>
<text x="594" y="420.3" font-family='"Liberation Serif", "DejaVu Serif", serif' font-size="16.3" font-weight="normal" font-style="italic" fill="#222" text-anchor="start"><tspan font-style="normal">2</tspan>g</text>
<text x="611.2" y="418.8" font-family='"Liberation Serif", "DejaVu Serif", serif' font-size="30" font-weight="normal" font-style="normal" fill="#222" text-anchor="start">)</text>
<text x="620.6" y="419" font-family='"Liberation Serif", "DejaVu Serif", serif' font-size="27" font-weight="normal" font-style="normal" fill="#222" text-anchor="start">~</text>
<text x="641.2" y="415.8" font-family='"Liberation Serif", "DejaVu Serif", serif' font-size="22.5" font-weight="normal" font-style="normal" fill="#222" text-anchor="start">2</text>
<text x="651.2" y="415.8" font-family='"Liberation Serif", "DejaVu Serif", serif' font-size="22.5" font-weight="normal" font-style="italic" fill="#222" text-anchor="start">&#964;</text>
<text x="661.5" y="418.8" font-family='"Liberation Serif", "DejaVu Serif", serif' font-size="30" font-weight="normal" font-style="normal" fill="#222" text-anchor="start">(</text>
<text x="671" y="415.8" font-family='"Liberation Serif", "DejaVu Serif", serif' font-size="22.5" font-weight="normal" font-style="italic" fill="#222" text-anchor="start">A</text>
<text x="685" y="420.3" font-family='"Liberation Serif", "DejaVu Serif", serif' font-size="16.3" font-weight="normal" font-style="italic" fill="#222" text-anchor="start"><tspan font-style="normal">1</tspan>g</text>
<text x="702.8" y="418.8" font-family='"Liberation Serif", "DejaVu Serif", serif' font-size="30" font-weight="normal" font-style="normal" fill="#222" text-anchor="start">)</text>
<rect x="495.4" y="479.4" width="35.8" height="43.5" fill="#000"/>
<rect x="492.1" y="476.1" width="35.8" height="43.5" fill="#fff" stroke="#555" stroke-width="1"/>
<text x="495.4" y="505" font-family='"Liberation Serif", "DejaVu Serif", serif' font-size="14.8" font-weight="bold" font-style="normal" fill="#FF0000" text-anchor="start">E</text>
<text x="506.2" y="510.5" font-family='"Liberation Serif", "DejaVu Serif", serif' font-size="16.8" font-weight="bold" font-style="normal" fill="#FF0000" text-anchor="start">2g</text>
<text x="507.7" y="495.8" font-family='"Liberation Serif", "DejaVu Serif", serif' font-size="15" font-weight="bold" font-style="normal" fill="#FF0000" text-anchor="start">1</text>
<rect x="636" y="479.6" width="37.1" height="30.4" fill="#000"/>
<rect x="632.5" y="476.1" width="37.1" height="30.4" fill="#fff" stroke="#555" stroke-width="1"/>
<text x="636.7" y="495.2" font-family='"Liberation Serif", "DejaVu Serif", serif' font-size="16.2" font-weight="bold" font-style="normal" fill="#0000FF" text-anchor="start">A</text>
<text x="649.5" y="499.9" font-family='"Liberation Serif", "DejaVu Serif", serif' font-size="16.3" font-weight="bold" font-style="normal" fill="#0000FF" text-anchor="start">1g</text>
<line x1="488.7" y1="496.4" x2="460.9" y2="496.4" stroke="#FF0000" stroke-width="2" stroke-linecap="butt"/>
<polygon points="450.7,496.4 461.4,492.9 461.4,499.9" fill="#FF0000"/>
<line x1="675.9" y1="492.9" x2="703.4" y2="492.9" stroke="#0000FF" stroke-width="2" stroke-linecap="butt"/>
<polygon points="713.6,492.9 702.9,496.1 702.9,489.7" fill="#0000FF"/>
<text x="486.7" y="571.9" font-family='"Liberation Serif", "DejaVu Serif", serif' font-size="16.4" font-weight="normal" font-style="normal" fill="#000" text-anchor="start">1L WSe<tspan font-size="62%" dy="0.25em">2</tspan><tspan dy="-0.155em"> at </tspan><tspan font-style="italic">T</tspan> = 298 K</text>
<polyline points="45.3,791.8 46.32,791.8 47.34,791.8 48.37,791.8 49.39,791.8 50.41,791.79 51.43,791.79 52.46,791.79 53.48,791.79 54.5,791.78 55.52,791.78 56.55,791.77 57.57,791.77 58.59,791.76 59.61,791.76 60.64,791.75 61.66,791.75 62.68,791.74 63.7,791.73 64.73,791.73 65.75,791.72 66.77,791.71 67.79,791.71 68.82,791.7 69.84,791.69 70.86,791.68 71.88,791.67 72.91,791.66 73.93,791.66 74.95,791.65 75.97,791.64 76.99,791.63 78.02,791.62 79.04,791.61 80.06,791.6 81.08,791.59 82.11,791.58 83.13,791.57 84.15,791.55 85.17,791.54 86.2,791.52 87.22,791.51 88.24,791.49 89.26,791.47 90.29,791.45 91.31,791.43 92.33,791.41 93.35,791.39 94.38,791.36 95.4,791.33 96.42,791.31 97.44,791.28 98.47,791.25 99.49,791.22 100.51,791.18 101.53,791.14 102.55,791.1 103.58,791.04 104.6,790.98 105.62,790.92 106.64,790.84 107.67,790.77 108.69,790.68 109.71,790.6 110.73,790.51 111.76,790.41 112.78,790.31 113.8,790.2 114.82,790.09 115.85,789.98 116.87,789.87 117.89,789.75 118.91,789.63 119.94,789.51 120.96,789.38 121.98,789.25 123,789.1 124.03,788.95 125.05,788.79 126.07,788.63 127.09,788.45 128.12,788.27 129.14,788.07 130.16,787.87 131.18,787.66 132.2,787.43 133.23,787.2 134.25,786.96 135.27,786.71 136.29,786.45 137.32,786.18 138.34,785.9 139.36,785.6 140.38,785.3 141.41,784.98 142.43,784.66 143.45,784.3 144.47,783.9 145.5,783.44 146.52,782.94 147.54,782.4 148.56,781.82 149.59,781.21 150.61,780.58 151.63,779.92 152.65,779.24 153.68,778.55 154.7,777.84 155.72,777.13 156.74,776.42 157.76,775.65 158.79,774.84 159.81,773.99 160.83,773.1 161.85,772.19 162.88,771.26 163.9,770.3 164.92,769.34 165.94,768.38 166.97,767.41 167.99,766.46 169.01,765.51 170.03,764.59 171.06,763.66 172.08,762.73 173.1,761.78 174.12,760.83 175.15,759.87 176.17,758.92 177.19,757.96 178.21,757.02 179.24,756.08 180.26,755.16 181.28,754.24 182.3,753.35 183.33,752.48 184.35,751.6 185.37,750.71 186.39,749.81 187.41,748.91 188.44,748.03 189.46,747.17 190.48,746.35 191.5,745.57 192.53,744.85 193.55,744.19 194.57,743.61 195.59,743.09 196.62,742.59 197.64,742.12 198.66,741.7 199.68,741.34 200.71,741.06 201.73,740.85 202.75,740.65 203.77,740.47 204.8,740.35 205.82,740.3 206.84,740.34 207.86,740.47 208.89,740.66 209.91,740.91 210.93,741.18 211.95,741.56 212.97,742.13 214,742.8 215.02,743.51 216.04,744.26 217.06,745.07 218.09,745.95 219.11,746.88 220.13,747.85 221.15,748.87 222.18,749.92 223.2,751.01 224.22,752.11 225.24,753.23 226.27,754.36 227.29,755.55 228.31,756.82 229.33,758.17 230.36,759.57 231.38,761 232.4,762.44 233.42,763.87 234.45,765.26 235.47,766.59 236.49,767.85 237.51,769.01 238.54,770.09 239.56,771.16 240.58,772.21 241.6,773.23 242.62,774.21 243.65,775.17 244.67,776.08 245.69,776.94 246.71,777.76 247.74,778.51 248.76,779.21 249.78,779.86 250.8,780.48 251.83,781.08 252.85,781.66 253.87,782.2 254.89,782.72 255.92,783.21 256.94,783.67 257.96,784.09 258.98,784.48 260.01,784.84 261.03,785.16 262.05,785.47 263.07,785.78 264.1,786.07 265.12,786.35 266.14,786.62 267.16,786.88 268.18,787.13 269.21,787.36 270.23,787.59 271.25,787.81 272.27,788.01 273.3,788.21 274.32,788.39 275.34,788.56 276.36,788.72 277.39,788.87 278.41,789.01 279.43,789.15 280.45,789.28 281.48,789.41 282.5,789.53 283.52,789.65 284.54,789.77 285.57,789.89 286.59,790 287.61,790.1 288.63,790.21 289.66,790.3 290.68,790.4 291.7,790.48 292.72,790.57 293.75,790.65 294.77,790.72 295.79,790.79 296.81,790.85 297.83,790.9 298.86,790.95 299.88,791 300.9,791.03 301.92,791.07 302.95,791.11 303.97,791.14 304.99,791.18 306.01,791.21 307.04,791.24 308.06,791.27 309.08,791.3 310.1,791.32 311.13,791.35 312.15,791.38 313.17,791.4 314.19,791.42 315.22,791.44 316.24,791.46 317.26,791.48 318.28,791.5 319.31,791.52 320.33,791.54 321.35,791.55 322.37,791.57 323.39,791.58 324.42,791.59 325.44,791.61 326.46,791.62 327.48,791.63 328.51,791.64 329.53,791.65 330.55,791.66 331.57,791.67 332.6,791.69 333.62,791.7 334.64,791.71 335.66,791.72 336.69,791.73 337.71,791.74 338.73,791.74 339.75,791.75 340.78,791.76 341.8,791.77 342.82,791.77 343.84,791.78 344.87,791.78 345.89,791.79 346.91,791.79 347.93,791.8 348.96,791.8 349.98,791.8 351,791.8" fill="none" stroke="#800000" stroke-width="2" stroke-linejoin="round" stroke-linecap="butt"/>
<polyline points="45.3,849 46.32,849 47.34,849 48.37,849 49.39,849 50.41,848.99 51.43,848.99 52.46,848.99 53.48,848.99 54.5,848.98 55.52,848.98 56.55,848.98 57.57,848.97 58.59,848.97 59.61,848.96 60.64,848.95 61.66,848.95 62.68,848.94 63.7,848.94 64.73,848.93 65.75,848.92 66.77,848.92 67.79,848.91 68.82,848.9 69.84,848.89 70.86,848.88 71.88,848.87 72.91,848.87 73.93,848.86 74.95,848.85 75.97,848.84 76.99,848.83 78.02,848.82 79.04,848.81 80.06,848.8 81.08,848.79 82.11,848.78 83.13,848.76 84.15,848.75 85.17,848.73 86.2,848.71 87.22,848.69 88.24,848.67 89.26,848.64 90.29,848.62 91.31,848.59 92.33,848.56 93.35,848.53 94.38,848.5 95.4,848.47 96.42,848.43 97.44,848.4 98.47,848.36 99.49,848.32 100.51,848.28 101.53,848.23 102.55,848.17 103.58,848.1 104.6,848.03 105.62,847.95 106.64,847.86 107.67,847.77 108.69,847.66 109.71,847.56 110.73,847.44 111.76,847.32 112.78,847.2 113.8,847.07 114.82,846.94 115.85,846.8 116.87,846.66 117.89,846.51 118.91,846.36 119.94,846.21 120.96,846.05 121.98,845.87 123,845.68 124.03,845.47 125.05,845.25 126.07,845.02 127.09,844.77 128.12,844.51 129.14,844.24 130.16,843.96 131.18,843.67 132.2,843.38 133.23,843.07 134.25,842.75 135.27,842.43 136.29,842.11 137.32,841.78 138.34,841.44 139.36,841.1 140.38,840.75 141.41,840.41 142.43,840.06 143.45,839.71 144.47,839.34 145.5,838.97 146.52,838.59 147.54,838.19 148.56,837.79 149.59,837.37 150.61,836.93 151.63,836.49 152.65,836.02 153.68,835.54 154.7,835.05 155.72,834.53 156.74,834 157.76,833.45 158.79,832.88 159.81,832.26 160.83,831.6 161.85,830.89 162.88,830.15 163.9,829.38 164.92,828.57 165.94,827.75 166.97,826.91 167.99,826.06 169.01,825.2 170.03,824.34 171.06,823.48 172.08,822.64 173.1,821.77 174.12,820.89 175.15,819.98 176.17,819.06 177.19,818.12 178.21,817.18 179.24,816.23 180.26,815.29 181.28,814.34 182.3,813.41 183.33,812.48 184.35,811.58 185.37,810.7 186.39,809.82 187.41,808.94 188.44,808.04 189.46,807.15 190.48,806.27 191.5,805.4 192.53,804.56 193.55,803.74 194.57,802.97 195.59,802.25 196.62,801.58 197.64,800.95 198.66,800.32 199.68,799.73 200.71,799.19 201.73,798.72 202.75,798.37 203.77,798.1 204.8,797.86 205.82,797.64 206.84,797.49 207.86,797.41 208.89,797.43 209.91,797.55 210.93,797.75 211.95,798.01 212.97,798.29 214,798.69 215.02,799.25 216.04,799.94 217.06,800.7 218.09,801.54 219.11,802.53 220.13,803.64 221.15,804.85 222.18,806.13 223.2,807.45 224.22,808.78 225.24,810.09 226.27,811.36 227.29,812.62 228.31,813.92 229.33,815.25 230.36,816.61 231.38,817.96 232.4,819.31 233.42,820.65 234.45,821.94 235.47,823.19 236.49,824.39 237.51,825.51 238.54,826.58 239.56,827.64 240.58,828.68 241.6,829.69 242.62,830.68 243.65,831.64 244.67,832.55 245.69,833.42 246.71,834.24 247.74,835.01 248.76,835.71 249.78,836.36 250.8,836.99 251.83,837.6 252.85,838.18 253.87,838.73 254.89,839.25 255.92,839.75 256.94,840.22 257.96,840.66 258.98,841.06 260.01,841.43 261.03,841.78 262.05,842.12 263.07,842.44 264.1,842.76 265.12,843.07 266.14,843.36 267.16,843.65 268.18,843.92 269.21,844.18 270.23,844.43 271.25,844.67 272.27,844.9 273.3,845.12 274.32,845.32 275.34,845.52 276.36,845.69 277.39,845.86 278.41,846.02 279.43,846.16 280.45,846.31 281.48,846.45 282.5,846.58 283.52,846.71 284.54,846.84 285.57,846.96 286.59,847.08 287.61,847.2 288.63,847.31 289.66,847.41 290.68,847.51 291.7,847.61 292.72,847.7 293.75,847.79 294.77,847.87 295.79,847.95 296.81,848.02 297.83,848.08 298.86,848.14 299.88,848.19 300.9,848.24 301.92,848.29 302.95,848.34 303.97,848.38 304.99,848.43 306.01,848.47 307.04,848.51 308.06,848.55 309.08,848.59 310.1,848.62 311.13,848.66 312.15,848.69 313.17,848.72 314.19,848.75 315.22,848.78 316.24,848.81 317.26,848.84 318.28,848.86 319.31,848.89 320.33,848.91 321.35,848.93 322.37,848.95 323.39,848.97 324.42,848.99 325.44,849.01 326.46,849.02 327.48,849.04 328.51,849.06 329.53,849.08 330.55,849.09 331.57,849.11 332.6,849.12 333.62,849.14 334.64,849.16 335.66,849.17 336.69,849.18 337.71,849.2 338.73,849.21 339.75,849.22 340.78,849.23 341.8,849.25 342.82,849.26 343.84,849.26 344.87,849.27 345.89,849.28 346.91,849.29 347.93,849.29 348.96,849.3 349.98,849.3 351,849.3" fill="none" stroke="#FF8000" stroke-width="2" stroke-linejoin="round" stroke-linecap="butt"/>
<polyline points="45.3,905.9 46.32,905.85 47.34,905.8 48.37,905.75 49.39,905.69 50.41,905.64 51.43,905.57 52.46,905.51 53.48,905.45 54.5,905.38 55.52,905.31 56.55,905.24 57.57,905.17 58.59,905.1 59.61,905.02 60.64,904.95 61.66,904.87 62.68,904.79 63.7,904.71 64.73,904.62 65.75,904.54 66.77,904.45 67.79,904.36 68.82,904.27 69.84,904.18 70.86,904.08 71.88,903.98 72.91,903.88 73.93,903.78 74.95,903.67 75.97,903.56 76.99,903.45 78.02,903.34 79.04,903.22 80.06,903.1 81.08,902.98 82.11,902.85 83.13,902.72 84.15,902.59 85.17,902.46 86.2,902.32 87.22,902.18 88.24,902.04 89.26,901.89 90.29,901.72 91.31,901.56 92.33,901.38 93.35,901.2 94.38,901.01 95.4,900.81 96.42,900.61 97.44,900.4 98.47,900.19 99.49,899.98 100.51,899.76 101.53,899.54 102.55,899.31 103.58,899.09 104.6,898.86 105.62,898.64 106.64,898.41 107.67,898.19 108.69,897.96 109.71,897.74 110.73,897.52 111.76,897.3 112.78,897.08 113.8,896.87 114.82,896.67 115.85,896.46 116.87,896.27 117.89,896.07 118.91,895.88 119.94,895.69 120.96,895.5 121.98,895.3 123,895.11 124.03,894.92 125.05,894.73 126.07,894.54 127.09,894.36 128.12,894.17 129.14,893.98 130.16,893.8 131.18,893.61 132.2,893.43 133.23,893.25 134.25,893.06 135.27,892.88 136.29,892.7 137.32,892.52 138.34,892.34 139.36,892.16 140.38,891.98 141.41,891.81 142.43,891.63 143.45,891.45 144.47,891.28 145.5,891.12 146.52,890.95 147.54,890.79 148.56,890.62 149.59,890.46 150.61,890.3 151.63,890.15 152.65,889.99 153.68,889.83 154.7,889.67 155.72,889.51 156.74,889.35 157.76,889.18 158.79,889.02 159.81,888.85 160.83,888.68 161.85,888.5 162.88,888.32 163.9,888.14 164.92,887.95 165.94,887.76 166.97,887.58 167.99,887.4 169.01,887.22 170.03,887.05 171.06,886.86 172.08,886.67 173.1,886.47 174.12,886.25 175.15,886.02 176.17,885.76 177.19,885.49 178.21,885.19 179.24,884.85 180.26,884.44 181.28,883.96 182.3,883.41 183.33,882.8 184.35,882.13 185.37,881.42 186.39,880.68 187.41,879.9 188.44,879.07 189.46,878.11 190.48,877.03 191.5,875.86 192.53,874.63 193.55,873.38 194.57,872.12 195.59,870.89 196.62,869.71 197.64,868.58 198.66,867.42 199.68,866.24 200.71,865.06 201.73,863.91 202.75,862.8 203.77,861.76 204.8,860.8 205.82,859.96 206.84,859.2 207.86,858.48 208.89,857.82 209.91,857.26 210.93,856.82 211.95,856.46 212.97,856.13 214,855.89 215.02,855.8 216.04,856 217.06,856.53 218.09,857.28 219.11,858.15 220.13,859.18 221.15,860.72 222.18,862.66 223.2,864.86 224.22,867.15 225.24,869.37 226.27,871.43 227.29,873.54 228.31,875.73 229.33,877.92 230.36,880.08 231.38,882.13 232.4,884.02 233.42,885.72 234.45,887.32 235.47,888.85 236.49,890.31 237.51,891.66 238.54,892.89 239.56,893.97 240.58,894.92 241.6,895.82 242.62,896.67 243.65,897.47 244.67,898.21 245.69,898.89 246.71,899.51 247.74,900.06 248.76,900.54 249.78,900.97 250.8,901.37 251.83,901.76 252.85,902.12 253.87,902.46 254.89,902.77 255.92,903.06 256.94,903.32 257.96,903.56 258.98,903.78 260.01,903.97 261.03,904.14 262.05,904.3 263.07,904.45 264.1,904.6 265.12,904.74 266.14,904.87 267.16,905 268.18,905.12 269.21,905.24 270.23,905.34 271.25,905.45 272.27,905.54 273.3,905.63 274.32,905.72 275.34,905.8 276.36,905.87 277.39,905.94 278.41,906.01 279.43,906.07 280.45,906.13 281.48,906.19 282.5,906.25 283.52,906.3 284.54,906.36 285.57,906.41 286.59,906.46 287.61,906.51 288.63,906.56 289.66,906.61 290.68,906.65 291.7,906.69 292.72,906.73 293.75,906.76 294.77,906.79 295.79,906.82 296.81,906.85 297.83,906.87 298.86,906.88 299.88,906.9 300.9,906.91 301.92,906.92 302.95,906.93 303.97,906.94 304.99,906.95 306.01,906.97 307.04,906.98 308.06,906.99 309.08,907 310.1,907.01 311.13,907.01 312.15,907.02 313.17,907.03 314.19,907.04 315.22,907.05 316.24,907.06 317.26,907.07 318.28,907.07 319.31,907.08 320.33,907.09 321.35,907.1 322.37,907.1 323.39,907.11 324.42,907.12 325.44,907.12 326.46,907.13 327.48,907.13 328.51,907.14 329.53,907.15 330.55,907.15 331.57,907.16 332.6,907.16 333.62,907.16 334.64,907.17 335.66,907.17 336.69,907.18 337.71,907.18 338.73,907.18 339.75,907.18 340.78,907.19 341.8,907.19 342.82,907.19 343.84,907.19 344.87,907.2 345.89,907.2 346.91,907.2 347.93,907.2 348.96,907.2 349.98,907.2 351,907.2" fill="none" stroke="#8000FF" stroke-width="2.4" stroke-linejoin="round" stroke-linecap="butt"/>
<polyline points="45.3,962.8 46.32,962.76 47.34,962.72 48.37,962.68 49.39,962.64 50.41,962.59 51.43,962.55 52.46,962.5 53.48,962.45 54.5,962.4 55.52,962.35 56.55,962.29 57.57,962.24 58.59,962.18 59.61,962.12 60.64,962.06 61.66,962 62.68,961.94 63.7,961.88 64.73,961.82 65.75,961.75 66.77,961.69 67.79,961.62 68.82,961.55 69.84,961.48 70.86,961.41 71.88,961.33 72.91,961.26 73.93,961.18 74.95,961.1 75.97,961.02 76.99,960.93 78.02,960.85 79.04,960.76 80.06,960.67 81.08,960.57 82.11,960.48 83.13,960.38 84.15,960.28 85.17,960.18 86.2,960.07 87.22,959.96 88.24,959.85 89.26,959.73 90.29,959.61 91.31,959.48 92.33,959.34 93.35,959.19 94.38,959.04 95.4,958.89 96.42,958.73 97.44,958.56 98.47,958.39 99.49,958.22 100.51,958.05 101.53,957.87 102.55,957.69 103.58,957.51 104.6,957.33 105.62,957.14 106.64,956.96 107.67,956.77 108.69,956.59 109.71,956.4 110.73,956.22 111.76,956.04 112.78,955.86 113.8,955.68 114.82,955.51 115.85,955.34 116.87,955.17 117.89,955.01 118.91,954.84 119.94,954.68 120.96,954.52 121.98,954.36 123,954.2 124.03,954.04 125.05,953.87 126.07,953.71 127.09,953.55 128.12,953.39 129.14,953.23 130.16,953.07 131.18,952.91 132.2,952.75 133.23,952.58 134.25,952.42 135.27,952.25 136.29,952.08 137.32,951.91 138.34,951.74 139.36,951.57 140.38,951.39 141.41,951.21 142.43,951.03 143.45,950.85 144.47,950.66 145.5,950.48 146.52,950.29 147.54,950.1 148.56,949.9 149.59,949.71 150.61,949.51 151.63,949.31 152.65,949.11 153.68,948.91 154.7,948.7 155.72,948.49 156.74,948.28 157.76,948.07 158.79,947.86 159.81,947.64 160.83,947.42 161.85,947.21 162.88,946.99 163.9,946.77 164.92,946.55 165.94,946.31 166.97,946.07 167.99,945.83 169.01,945.56 170.03,945.29 171.06,945 172.08,944.71 173.1,944.4 174.12,944.08 175.15,943.75 176.17,943.4 177.19,943.04 178.21,942.66 179.24,942.26 180.26,941.85 181.28,941.41 182.3,940.94 183.33,940.44 184.35,939.91 185.37,939.35 186.39,938.75 187.41,938.13 188.44,937.48 189.46,936.81 190.48,936.11 191.5,935.39 192.53,934.65 193.55,933.87 194.57,933.01 195.59,932.1 196.62,931.14 197.64,930.15 198.66,929.13 199.68,928.03 200.71,926.86 201.73,925.67 202.75,924.51 203.77,923.43 204.8,922.43 205.82,921.46 206.84,920.53 207.86,919.63 208.89,918.78 209.91,917.95 210.93,917.13 211.95,916.32 212.97,915.56 214,914.87 215.02,914.29 216.04,913.78 217.06,913.27 218.09,912.84 219.11,912.56 220.13,912.5 221.15,912.54 222.18,912.62 223.2,912.74 224.22,912.89 225.24,913.19 226.27,913.76 227.29,914.49 228.31,915.32 229.33,916.44 230.36,917.76 231.38,919.21 232.4,920.69 233.42,922.3 234.45,924.04 235.47,925.88 236.49,927.75 237.51,929.59 238.54,931.41 239.56,933.3 240.58,935.2 241.6,937.06 242.62,938.82 243.65,940.42 244.67,941.91 245.69,943.33 246.71,944.68 247.74,945.94 248.76,947.12 249.78,948.22 250.8,949.27 251.83,950.26 252.85,951.19 253.87,952.03 254.89,952.76 255.92,953.4 256.94,953.98 257.96,954.51 258.98,955.01 260.01,955.5 261.03,956 262.05,956.5 263.07,956.99 264.1,957.46 265.12,957.9 266.14,958.3 267.16,958.65 268.18,958.98 269.21,959.3 270.23,959.6 271.25,959.9 272.27,960.18 273.3,960.44 274.32,960.68 275.34,960.9 276.36,961.1 277.39,961.27 278.41,961.41 279.43,961.55 280.45,961.67 281.48,961.79 282.5,961.91 283.52,962.02 284.54,962.13 285.57,962.24 286.59,962.33 287.61,962.43 288.63,962.52 289.66,962.6 290.68,962.68 291.7,962.76 292.72,962.83 293.75,962.9 294.77,962.96 295.79,963.01 296.81,963.07 297.83,963.11 298.86,963.16 299.88,963.2 300.9,963.23 301.92,963.27 302.95,963.3 303.97,963.33 304.99,963.37 306.01,963.4 307.04,963.43 308.06,963.46 309.08,963.5 310.1,963.53 311.13,963.56 312.15,963.59 313.17,963.62 314.19,963.64 315.22,963.67 316.24,963.7 317.26,963.73 318.28,963.75 319.31,963.78 320.33,963.8 321.35,963.83 322.37,963.85 323.39,963.88 324.42,963.9 325.44,963.92 326.46,963.94 327.48,963.96 328.51,963.98 329.53,964 330.55,964.02 331.57,964.03 332.6,964.05 333.62,964.07 334.64,964.08 335.66,964.09 336.69,964.11 337.71,964.12 338.73,964.13 339.75,964.14 340.78,964.15 341.8,964.16 342.82,964.17 343.84,964.18 344.87,964.18 345.89,964.19 346.91,964.19 347.93,964.2 348.96,964.2 349.98,964.2 351,964.2" fill="none" stroke="#FF66FF" stroke-width="2.2" stroke-linejoin="round" stroke-linecap="butt"/>
<line x1="142.2" y1="786.1" x2="199.1" y2="737.4" stroke="#2E8BD8" stroke-width="1.7" stroke-linecap="butt" stroke-dasharray="5.5 3"/>
<line x1="158" y1="838.5" x2="204.1" y2="793.5" stroke="#2E8BD8" stroke-width="1.7" stroke-linecap="butt" stroke-dasharray="5.5 3"/>
<line x1="174.3" y1="893.6" x2="217.2" y2="846.3" stroke="#2E8BD8" stroke-width="1.7" stroke-linecap="butt" stroke-dasharray="5.5 3"/>
<line x1="182.2" y1="947.4" x2="225.8" y2="905.6" stroke="#2E8BD8" stroke-width="1.7" stroke-linecap="butt" stroke-dasharray="5.5 3"/>
<line x1="226.1" y1="732.6" x2="226.1" y2="962.6" stroke="#FF0000" stroke-width="2.8" stroke-linecap="butt" stroke-dasharray="11 8.9"/>
<rect x="45.3" y="729.5" width="305.7" height="247.3" fill="none" stroke="#000" stroke-width="2"/>
<line x1="62.6" y1="976.8" x2="62.6" y2="970.8" stroke="#000" stroke-width="1.8" stroke-linecap="butt"/>
<text x="62.6" y="993.7" font-family='"Liberation Sans", "DejaVu Sans", sans-serif' font-size="14.8" font-weight="bold" font-style="normal" fill="#000" text-anchor="middle">1.35</text>
<line x1="145.59" y1="976.8" x2="145.59" y2="970.8" stroke="#000" stroke-width="1.8" stroke-linecap="butt"/>
<text x="145.59" y="993.7" font-family='"Liberation Sans", "DejaVu Sans", sans-serif' font-size="14.8" font-weight="bold" font-style="normal" fill="#000" text-anchor="middle">1.50</text>
<line x1="228.59" y1="976.8" x2="228.59" y2="970.8" stroke="#000" stroke-width="1.8" stroke-linecap="butt"/>
<text x="228.59" y="993.7" font-family='"Liberation Sans", "DejaVu Sans", sans-serif' font-size="14.8" font-weight="bold" font-style="normal" fill="#000" text-anchor="middle">1.65</text>
<line x1="311.58" y1="976.8" x2="311.58" y2="970.8" stroke="#000" stroke-width="1.8" stroke-linecap="butt"/>
<text x="311.58" y="993.7" font-family='"Liberation Sans", "DejaVu Sans", sans-serif' font-size="14.8" font-weight="bold" font-style="normal" fill="#000" text-anchor="middle">1.80</text>
<line x1="104.1" y1="976.8" x2="104.1" y2="973.3" stroke="#000" stroke-width="1.8" stroke-linecap="butt"/>
<line x1="187.09" y1="976.8" x2="187.09" y2="973.3" stroke="#000" stroke-width="1.8" stroke-linecap="butt"/>
<line x1="270.09" y1="976.8" x2="270.09" y2="973.3" stroke="#000" stroke-width="1.8" stroke-linecap="butt"/>
<line x1="45.3" y1="756.3" x2="51.3" y2="756.3" stroke="#000" stroke-width="1.8" stroke-linecap="butt"/>
<line x1="45.3" y1="782.3" x2="51.3" y2="782.3" stroke="#000" stroke-width="1.8" stroke-linecap="butt"/>
<line x1="45.3" y1="808.3" x2="51.3" y2="808.3" stroke="#000" stroke-width="1.8" stroke-linecap="butt"/>
<line x1="45.3" y1="834.3" x2="51.3" y2="834.3" stroke="#000" stroke-width="1.8" stroke-linecap="butt"/>
<line x1="45.3" y1="860.3" x2="51.3" y2="860.3" stroke="#000" stroke-width="1.8" stroke-linecap="butt"/>
<line x1="45.3" y1="886.3" x2="51.3" y2="886.3" stroke="#000" stroke-width="1.8" stroke-linecap="butt"/>
<line x1="45.3" y1="912.3" x2="51.3" y2="912.3" stroke="#000" stroke-width="1.8" stroke-linecap="butt"/>
<line x1="45.3" y1="938.3" x2="51.3" y2="938.3" stroke="#000" stroke-width="1.8" stroke-linecap="butt"/>
<line x1="45.3" y1="964.3" x2="51.3" y2="964.3" stroke="#000" stroke-width="1.8" stroke-linecap="butt"/>
<text x="3.6" y="716.3" font-family='"Liberation Serif", "DejaVu Serif", serif' font-size="26.4" font-weight="bold" font-style="normal" fill="#000" text-anchor="start">(e)</text>
<text x="204.8" y="1018.4" font-family='"Liberation Serif", "DejaVu Serif", serif' font-size="20.9" font-weight="normal" font-style="normal" fill="#000" text-anchor="middle">Energy (eV)</text>
<text x="22.3" y="853.9" font-family='"Liberation Serif", "DejaVu Serif", serif' font-size="20.6" font-weight="normal" font-style="normal" fill="#000" text-anchor="middle" transform="rotate(-90 22.3 853.9)">PL Intensity (a.u.)</text>
<text x="66.6" y="754.8" font-family='"Liberation Serif", "DejaVu Serif", serif' font-size="16.3" font-weight="normal" font-style="normal" fill="#000" text-anchor="start">1L WSe<tspan font-size="68%" dy="0.3em">2</tspan></text>
<text x="64" y="774.3" font-family='"Liberation Serif", "DejaVu Serif", serif' font-size="16.3" font-weight="normal" font-style="normal" fill="#000" text-anchor="start"><tspan font-style="italic">T</tspan> = 298 K</text>
<text x="265.5" y="774.9" font-family='"Liberation Serif", "DejaVu Serif", serif' font-size="16.2" font-weight="bold" font-style="normal" fill="#000" text-anchor="start">3.35 mW</text>
<text x="268.5" y="837.9" font-family='"Liberation Serif", "DejaVu Serif", serif' font-size="16.2" font-weight="bold" font-style="normal" fill="#000" text-anchor="start">1.76 mW</text>
<text x="269.5" y="897.4" font-family='"Liberation Serif", "DejaVu Serif", serif' font-size="16.2" font-weight="bold" font-style="normal" fill="#000" text-anchor="start">1.00 mW</text>
<text x="268.5" y="955.6" font-family='"Liberation Serif", "DejaVu Serif", serif' font-size="16.2" font-weight="bold" font-style="normal" fill="#000" text-anchor="start">0.31 mW</text>
<text x="121.7" y="917" font-family='"Liberation Serif", "DejaVu Serif", serif' font-size="13.2" font-weight="bold" font-style="normal" fill="#1a1a1a" text-anchor="middle">Slope:</text>
<text x="67.4" y="931.2" font-family='"Liberation Serif", "DejaVu Serif", serif' font-size="10.4" font-weight="bold" font-style="italic" fill="#1a1a1a" text-anchor="start" textLength="55" lengthAdjust="spacing">d[ln(I(&#969;))]</text>
<line x1="67" y1="935" x2="123.2" y2="935" stroke="#1a1a1a" stroke-width="1.1" stroke-linecap="butt"/>
<text x="87.6" y="946.6" font-family='"Liberation Serif", "DejaVu Serif", serif' font-size="10.4" font-weight="bold" font-style="italic" fill="#1a1a1a" text-anchor="start" textLength="14.2" lengthAdjust="spacing">d&#969;</text>
<text x="131.6" y="939" font-family='"Liberation Serif", "DejaVu Serif", serif' font-size="14" font-weight="bold" font-style="normal" fill="#1a1a1a" text-anchor="middle">=</text>
<text x="144.9" y="932" font-family='"Liberation Serif", "DejaVu Serif", serif' font-size="11.5" font-weight="bold" font-style="normal" fill="#1a1a1a" text-anchor="middle">1</text>
<line x1="139.8" y1="935" x2="151" y2="935" stroke="#1a1a1a" stroke-width="1.1" stroke-linecap="butt"/>
<text x="139.9" y="946.8" font-family='"Liberation Serif", "DejaVu Serif", serif' font-size="11" font-weight="bold" font-style="italic" fill="#1a1a1a" text-anchor="start">E<tspan font-size="68%" dy="0.22em">0</tspan></text>
<line x1="159.6" y1="935" x2="195.1" y2="927.9" stroke="#7030A0" stroke-width="1.9" stroke-linecap="butt" stroke-dasharray="4.5 2.5"/>
<line x1="195.1" y1="927.9" x2="189.89" y2="932.27" stroke="#7030A0" stroke-width="1.9" stroke-linecap="round"/>
<line x1="195.1" y1="927.9" x2="188.61" y2="925.87" stroke="#7030A0" stroke-width="1.9" stroke-linecap="round"/>
<polyline points="447.7,747.3 449.71,748.51 451.72,749.72 453.73,750.93 455.74,752.15 457.75,753.37 459.76,754.6 461.78,755.83 463.79,757.07 465.8,758.33 467.81,759.6 469.82,760.87 471.83,762.17 473.84,763.48 475.85,764.8 477.86,766.15 479.87,767.51 481.88,768.89 483.89,770.3 485.91,771.73 487.92,773.18 489.93,774.66 491.94,776.16 493.95,777.7 495.96,779.26 497.97,780.85 499.98,782.48 501.99,784.14 504,785.84 506.01,787.57 508.02,789.34 510.03,791.14 512.05,792.99 514.06,794.88 516.07,796.8 518.08,798.76 520.09,800.75 522.1,802.78 524.11,804.83 526.12,806.92 528.13,809.02 530.14,811.16 532.15,813.31 534.16,815.48 536.17,817.67 538.19,819.87 540.2,822.09 542.21,824.31 544.22,826.55 546.23,828.79 548.24,831.04 550.25,833.29 552.26,835.54 554.27,837.79 556.28,840.03 558.29,842.27 560.3,844.5 562.32,846.72 564.33,848.93 566.34,851.12 568.35,853.3 570.36,855.46 572.37,857.6 574.38,859.72 576.39,861.81 578.4,863.87 580.41,865.91 582.42,867.92 584.43,869.89 586.44,871.83 588.46,873.75 590.47,875.63 592.48,877.48 594.49,879.3 596.5,881.1 598.51,882.86 600.52,884.6 602.53,886.31 604.54,887.99 606.55,889.64 608.56,891.27 610.57,892.87 612.58,894.45 614.6,896 616.61,897.53 618.62,899.03 620.63,900.51 622.64,901.97 624.65,903.4 626.66,904.82 628.67,906.2 630.68,907.57 632.69,908.92 634.7,910.24 636.71,911.55 638.73,912.84 640.74,914.1 642.75,915.35 644.76,916.58 646.77,917.79 648.78,918.98 650.79,920.16 652.8,921.32 654.81,922.46 656.82,923.59 658.83,924.7 660.84,925.8 662.85,926.88 664.87,927.95 666.88,929.01 668.89,930.05 670.9,931.08 672.91,932.09 674.92,933.1 676.93,934.09 678.94,935.07 680.95,936.05 682.96,937.01 684.97,937.96 686.98,938.9 688.99,939.84 691.01,940.76 693.02,941.68 695.03,942.59 697.04,943.49 699.05,944.39 701.06,945.28 703.07,946.17 705.08,947.05 707.09,947.92 709.1,948.79 711.11,949.66 713.12,950.52 715.14,951.38 717.15,952.24 719.16,953.09 721.17,953.95 723.18,954.8 725.19,955.65 727.2,956.5" fill="none" stroke="#FF0000" stroke-width="1.8" stroke-linejoin="round" stroke-linecap="butt"/>
<polyline points="447.7,960.6 449.71,960.02 451.72,959.44 453.73,958.86 455.74,958.28 457.75,957.7 459.76,957.11 461.78,956.51 463.79,955.91 465.8,955.3 467.81,954.69 469.82,954.07 471.83,953.44 473.84,952.79 475.85,952.14 477.86,951.48 479.87,950.8 481.88,950.11 483.89,949.41 485.91,948.69 487.92,947.96 489.93,947.21 491.94,946.44 493.95,945.65 495.96,944.85 497.97,944.02 499.98,943.18 501.99,942.31 504,941.42 506.01,940.51 508.02,939.58 510.03,938.62 512.05,937.63 514.06,936.62 516.07,935.58 518.08,934.52 520.09,933.44 522.1,932.33 524.11,931.19 526.12,930.04 528.13,928.86 530.14,927.66 532.15,926.44 534.16,925.2 536.17,923.94 538.19,922.66 540.2,921.36 542.21,920.05 544.22,918.71 546.23,917.36 548.24,915.99 550.25,914.61 552.26,913.21 554.27,911.79 556.28,910.36 558.29,908.92 560.3,907.46 562.32,905.99 564.33,904.51 566.34,903.02 568.35,901.51 570.36,899.99 572.37,898.47 574.38,896.93 576.39,895.39 578.4,893.83 580.41,892.27 582.42,890.7 584.43,889.12 586.44,887.54 588.46,885.95 590.47,884.35 592.48,882.75 594.49,881.14 596.5,879.52 598.51,877.89 600.52,876.26 602.53,874.63 604.54,872.98 606.55,871.33 608.56,869.68 610.57,868.02 612.58,866.35 614.6,864.68 616.61,863 618.62,861.32 620.63,859.63 622.64,857.93 624.65,856.23 626.66,854.53 628.67,852.82 630.68,851.1 632.69,849.38 634.7,847.66 636.71,845.93 638.73,844.2 640.74,842.46 642.75,840.72 644.76,838.97 646.77,837.22 648.78,835.47 650.79,833.71 652.8,831.95 654.81,830.18 656.82,828.41 658.83,826.64 660.84,824.86 662.85,823.09 664.87,821.3 666.88,819.52 668.89,817.73 670.9,815.94 672.91,814.14 674.92,812.35 676.93,810.55 678.94,808.74 680.95,806.94 682.96,805.13 684.97,803.32 686.98,801.51 688.99,799.7 691.01,797.88 693.02,796.07 695.03,794.25 697.04,792.43 699.05,790.61 701.06,788.78 703.07,786.96 705.08,785.13 707.09,783.31 709.1,781.48 711.11,779.65 713.12,777.82 715.14,775.99 717.15,774.16 719.16,772.33 721.17,770.5 723.18,768.66 725.19,766.83 727.2,765" fill="none" stroke="#0000FF" stroke-width="1.8" stroke-linejoin="round" stroke-linecap="butt"/>
<rect x="439.45" y="739.05" width="16.5" height="16.5" fill="#fff"/>
<rect x="503.05" y="784.05" width="16.5" height="16.5" fill="#fff"/>
<rect x="573.15" y="858.65" width="16.5" height="16.5" fill="#fff"/>
<rect x="718.95" y="948.25" width="16.5" height="16.5" fill="#fff"/>
<circle cx="447.7" cy="960.6" r="8.4" fill="#fff"/>
<circle cx="511.3" cy="938" r="8.4" fill="#fff"/>
<circle cx="581.4" cy="891.5" r="8.4" fill="#fff"/>
<circle cx="727.2" cy="765" r="8.4" fill="#fff"/>
<line x1="437" y1="732.9" x2="742.2" y2="732.9" stroke="#000" stroke-width="2.4" stroke-linecap="butt"/>
<line x1="437" y1="978.6" x2="742.2" y2="978.6" stroke="#000" stroke-width="2.4" stroke-linecap="butt"/>
<line x1="438" y1="731.7" x2="438" y2="979.8" stroke="#FF0000" stroke-width="2.4" stroke-linecap="butt"/>
<line x1="741.2" y1="731.7" x2="741.2" y2="979.8" stroke="#0000FF" stroke-width="2.4" stroke-linecap="butt"/>
<line x1="474.5" y1="978.6" x2="474.5" y2="972.6" stroke="#000" stroke-width="1.8" stroke-linecap="butt"/>
<text x="474.5" y="994.6" font-family='"Liberation Sans", "DejaVu Sans", sans-serif' font-size="14.8" font-weight="bold" font-style="normal" fill="#000" text-anchor="middle">0.6</text>
<line x1="529.76" y1="978.6" x2="529.76" y2="972.6" stroke="#000" stroke-width="1.8" stroke-linecap="butt"/>
<text x="529.76" y="994.6" font-family='"Liberation Sans", "DejaVu Sans", sans-serif' font-size="14.8" font-weight="bold" font-style="normal" fill="#000" text-anchor="middle">1.2</text>
<line x1="585.02" y1="978.6" x2="585.02" y2="972.6" stroke="#000" stroke-width="1.8" stroke-linecap="butt"/>
<text x="585.02" y="994.6" font-family='"Liberation Sans", "DejaVu Sans", sans-serif' font-size="14.8" font-weight="bold" font-style="normal" fill="#000" text-anchor="middle">1.8</text>
<line x1="640.28" y1="978.6" x2="640.28" y2="972.6" stroke="#000" stroke-width="1.8" stroke-linecap="butt"/>
<text x="640.28" y="994.6" font-family='"Liberation Sans", "DejaVu Sans", sans-serif' font-size="14.8" font-weight="bold" font-style="normal" fill="#000" text-anchor="middle">2.4</text>
<line x1="695.54" y1="978.6" x2="695.54" y2="972.6" stroke="#000" stroke-width="1.8" stroke-linecap="butt"/>
<text x="695.54" y="994.6" font-family='"Liberation Sans", "DejaVu Sans", sans-serif' font-size="14.8" font-weight="bold" font-style="normal" fill="#000" text-anchor="middle">3.0</text>
<line x1="438" y1="956.7" x2="444" y2="956.7" stroke="#FF0000" stroke-width="1.8" stroke-linecap="butt"/>
<text x="433" y="961.2" font-family='"Liberation Sans", "DejaVu Sans", sans-serif' font-size="14.8" font-weight="bold" font-style="normal" fill="#FF0000" text-anchor="end">1.61</text>
<line x1="438" y1="882.1" x2="444" y2="882.1" stroke="#FF0000" stroke-width="1.8" stroke-linecap="butt"/>
<text x="433" y="886.6" font-family='"Liberation Sans", "DejaVu Sans", sans-serif' font-size="14.8" font-weight="bold" font-style="normal" fill="#FF0000" text-anchor="end">1.62</text>
<line x1="438" y1="807.5" x2="444" y2="807.5" stroke="#FF0000" stroke-width="1.8" stroke-linecap="butt"/>
<text x="433" y="812" font-family='"Liberation Sans", "DejaVu Sans", sans-serif' font-size="14.8" font-weight="bold" font-style="normal" fill="#FF0000" text-anchor="end">1.63</text>
<text x="433" y="737.4" font-family='"Liberation Sans", "DejaVu Sans", sans-serif' font-size="14.8" font-weight="bold" font-style="normal" fill="#FF0000" text-anchor="end">1.64</text>
<line x1="741.2" y1="961.3" x2="735.2" y2="961.3" stroke="#0000FF" stroke-width="1.8" stroke-linecap="butt"/>
<text x="746.6" y="965.8" font-family='"Liberation Sans", "DejaVu Sans", sans-serif' font-size="14.8" font-weight="bold" font-style="normal" fill="#0000FF" text-anchor="start">0.20</text>
<line x1="741.2" y1="890.66" x2="735.2" y2="890.66" stroke="#0000FF" stroke-width="1.8" stroke-linecap="butt"/>
<text x="746.6" y="895.16" font-family='"Liberation Sans", "DejaVu Sans", sans-serif' font-size="14.8" font-weight="bold" font-style="normal" fill="#0000FF" text-anchor="start">0.24</text>
<line x1="741.2" y1="820.02" x2="735.2" y2="820.02" stroke="#0000FF" stroke-width="1.8" stroke-linecap="butt"/>
<text x="746.6" y="824.52" font-family='"Liberation Sans", "DejaVu Sans", sans-serif' font-size="14.8" font-weight="bold" font-style="normal" fill="#0000FF" text-anchor="start">0.28</text>
<line x1="741.2" y1="749.38" x2="735.2" y2="749.38" stroke="#0000FF" stroke-width="1.8" stroke-linecap="butt"/>
<text x="746.6" y="753.88" font-family='"Liberation Sans", "DejaVu Sans", sans-serif' font-size="14.8" font-weight="bold" font-style="normal" fill="#0000FF" text-anchor="start">0.32</text>
<rect x="442.45" y="742.05" width="10.5" height="10.5" fill="#800000"/>
<rect x="506.05" y="787.05" width="10.5" height="10.5" fill="#800000"/>
<rect x="576.15" y="861.65" width="10.5" height="10.5" fill="#800000"/>
<rect x="721.95" y="951.25" width="10.5" height="10.5" fill="#800000"/>
<circle cx="447.7" cy="960.6" r="5.6" fill="url(#gRed)"/>
<circle cx="511.3" cy="938" r="5.6" fill="url(#gRed)"/>
<circle cx="581.4" cy="891.5" r="5.6" fill="url(#gRed)"/>
<circle cx="727.2" cy="765" r="5.6" fill="url(#gRed)"/>
<text x="371.2" y="716.2" font-family='"Liberation Serif", "DejaVu Serif", serif' font-size="26.4" font-weight="bold" font-style="normal" fill="#000" text-anchor="start">(f)</text>
<text x="585" y="1018.8" font-family='"Liberation Serif", "DejaVu Serif", serif' font-size="20.6" font-weight="normal" font-style="normal" fill="#000" text-anchor="middle">Laser Power (mW)</text>
<text x="391.6" y="849.3" font-family='"Liberation Serif", "DejaVu Serif", serif' font-size="20.6" font-weight="normal" font-style="normal" fill="#000" text-anchor="middle" transform="rotate(-90 391.6 849.3)">PL Peak (A) Shift (eV)</text>
<text x="780.5" y="856.5" font-family='"Liberation Serif", "DejaVu Serif", serif' font-size="20.6" font-weight="normal" font-style="normal" fill="#000" text-anchor="middle" transform="rotate(90 780.5 856.5)">E<tspan font-size="62%" dy="0.30em">0</tspan><tspan dy="-0.186em"> (meV)</tspan></text>
<rect x="535.5" y="743.4" width="137.2" height="39.5" fill="#fff" stroke="#222" stroke-width="1.5"/>
<text x="546.5" y="770.8" font-family='"Liberation Serif", "DejaVu Serif", serif' font-size="22" font-weight="normal" font-style="italic" fill="#222" text-anchor="start">&#951;</text>
<text x="556.2" y="773.7" font-family='"Liberation Serif", "DejaVu Serif", serif' font-size="15.2" font-weight="normal" font-style="italic" fill="#222" text-anchor="start" letter-spacing="0.4">EP</text>
<text x="581" y="770.8" font-family='"Liberation Serif", "DejaVu Serif", serif' font-size="21.5" font-weight="normal" font-style="normal" fill="#222" text-anchor="start">(1L)</text>
<text x="623.8" y="770.8" font-family='"Liberation Serif", "DejaVu Serif", serif' font-size="18.5" font-weight="normal" font-style="normal" fill="#333" text-anchor="start">=</text>
<text x="639.2" y="770.8" font-family='"Liberation Serif", "DejaVu Serif", serif' font-size="18.2" font-weight="normal" font-style="normal" fill="#333" text-anchor="start">1.6</text>
<line x1="520.6" y1="814.9" x2="466.8" y2="814.9" stroke="#FF0000" stroke-width="1.8" stroke-linecap="butt"/>
<polygon points="456.8,814.9 467.3,811.8 467.3,818" fill="#FF0000"/>
<line x1="675.4" y1="815" x2="729" y2="815" stroke="#0000FF" stroke-width="1.8" stroke-linecap="butt"/>
<polygon points="739,815 728.5,818.1 728.5,811.9" fill="#0000FF"/>
</svg></body></html>
